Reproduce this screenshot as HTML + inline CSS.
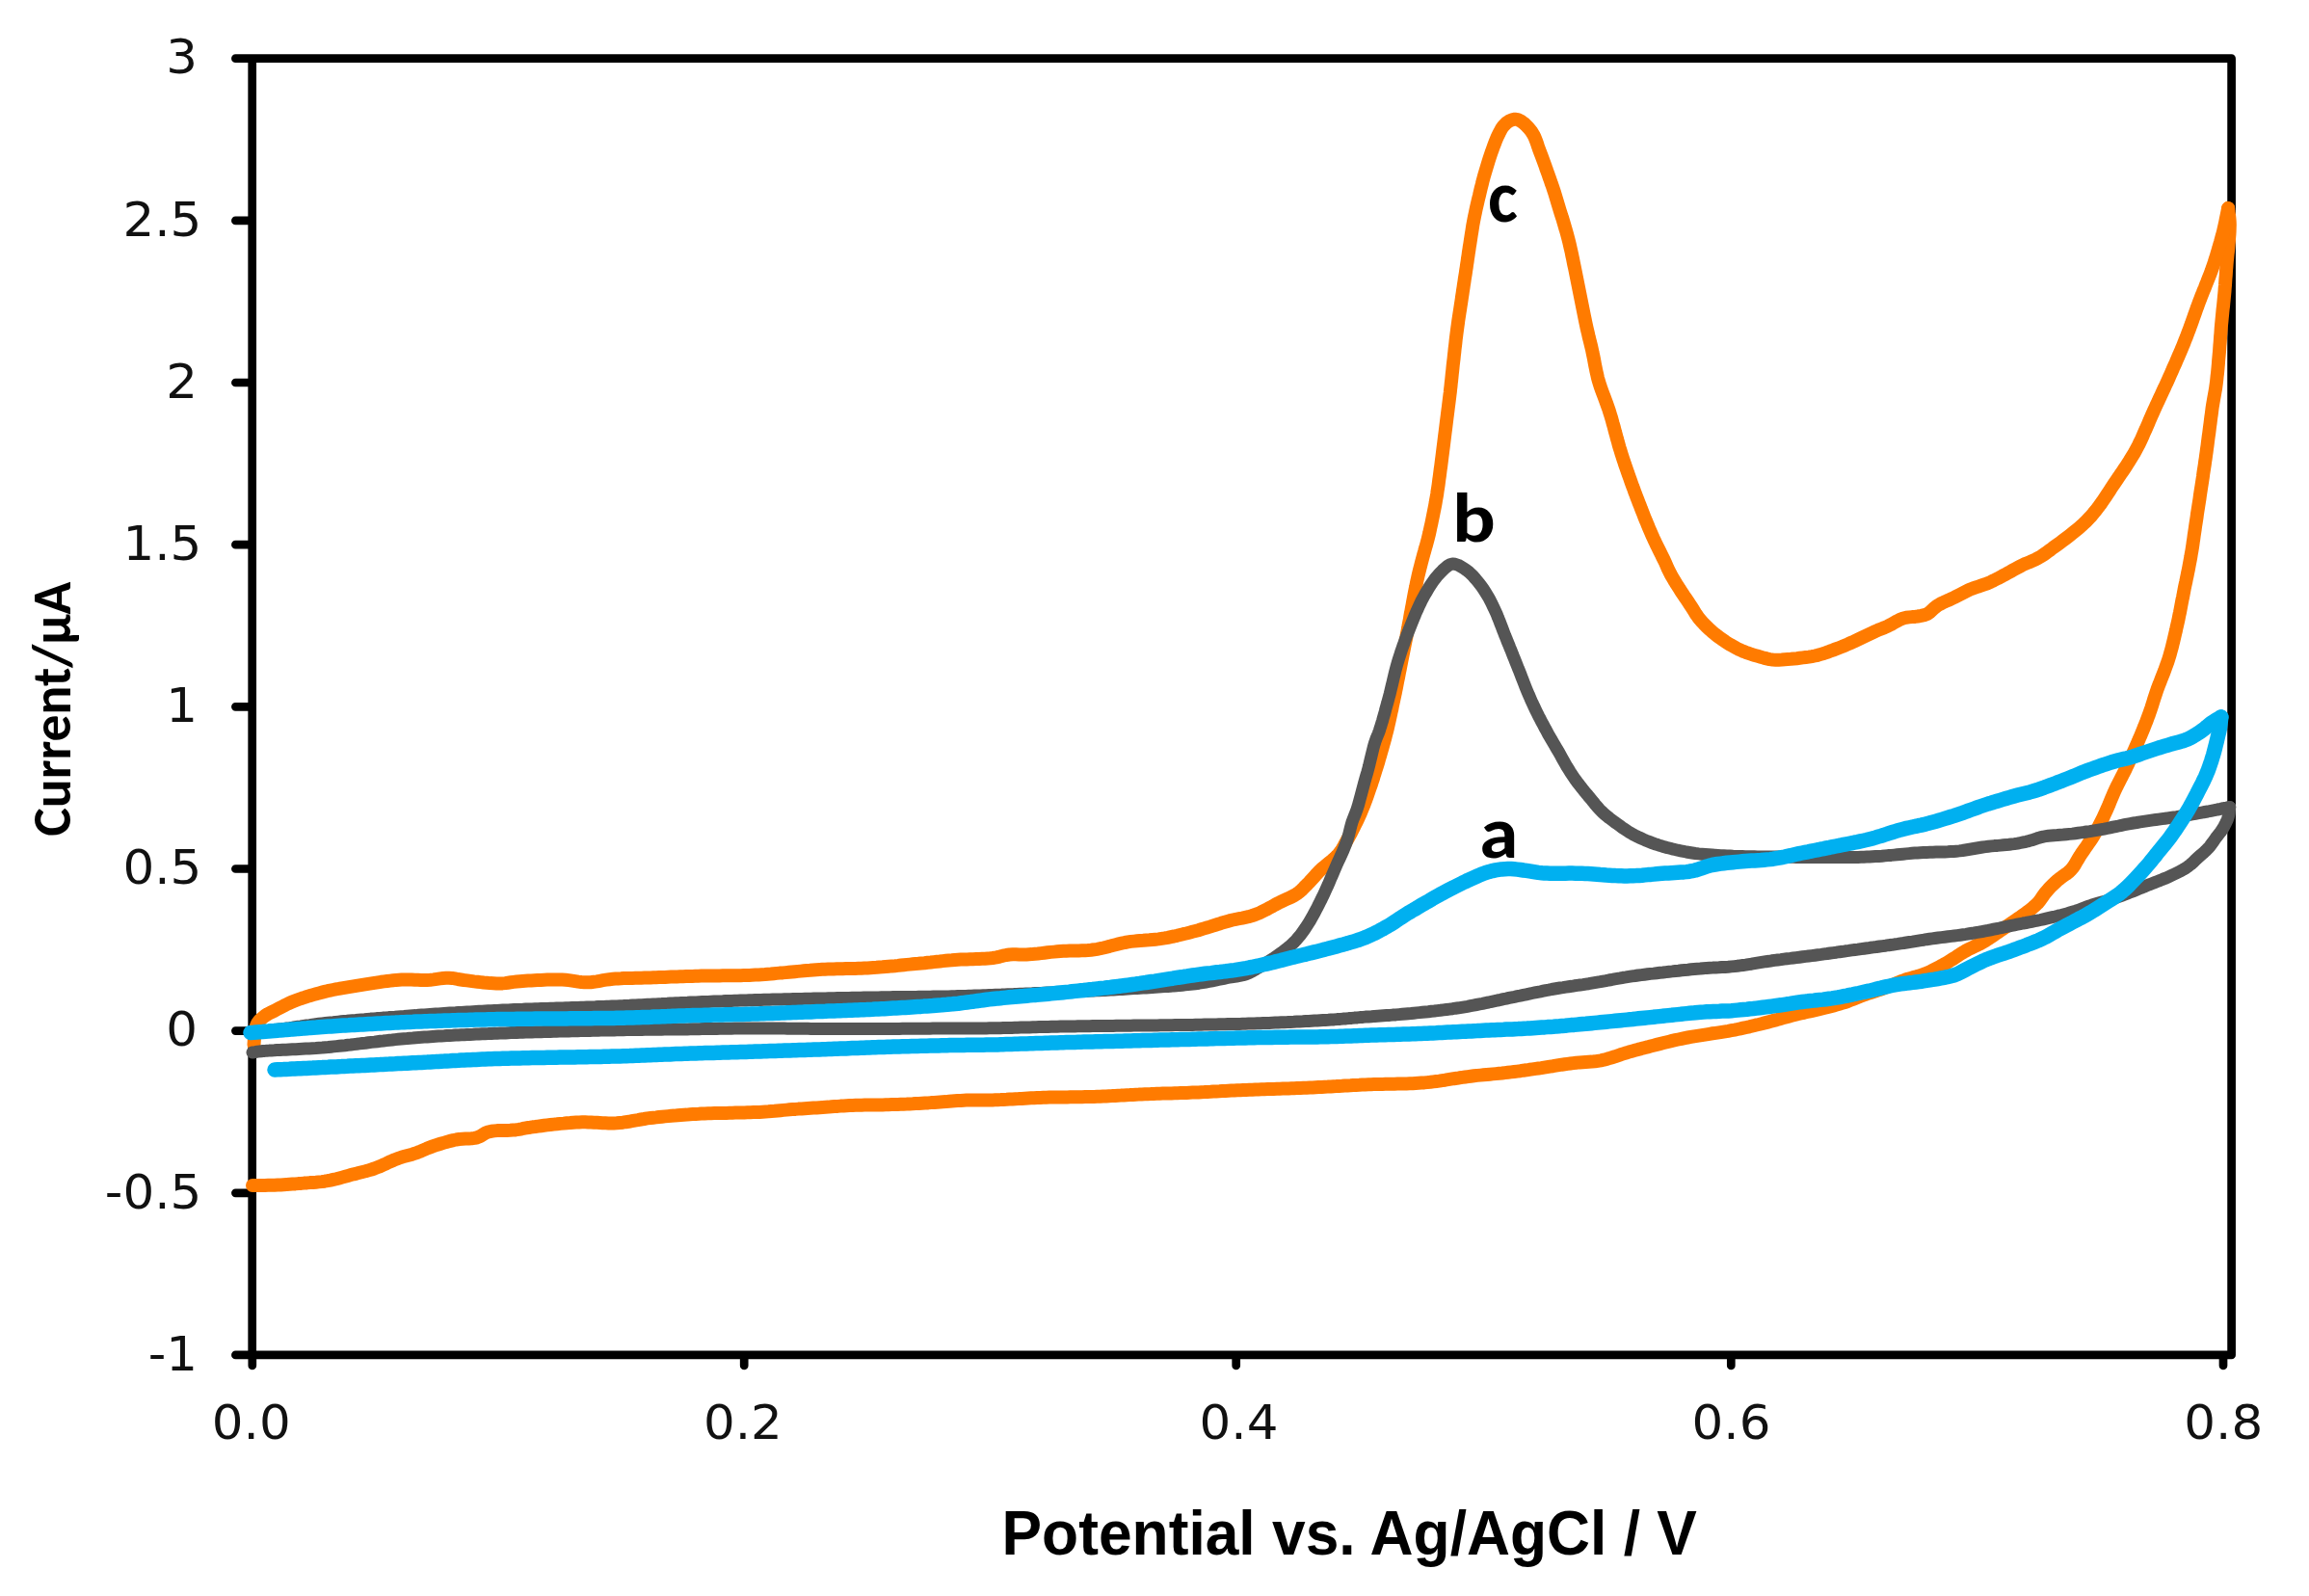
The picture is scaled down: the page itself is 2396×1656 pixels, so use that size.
<!DOCTYPE html>
<html><head><meta charset="utf-8"><title>Cyclic voltammogram</title>
<style>html,body{margin:0;padding:0;background:#fff;}body{width:2396px;height:1656px;overflow:hidden;}svg{display:block;}</style>
</head><body>
<svg xmlns="http://www.w3.org/2000/svg" width="2396" height="1656" viewBox="0 0 2396 1656"><path d="M261.7 60.7 H2315.6 V1405.9 H261.7 Z M244.4 60.7 H261.7 M244.4 228.9 H261.7 M244.4 397 H261.7 M244.4 565.2 H261.7 M244.4 733.3 H261.7 M244.4 901.5 H261.7 M244.4 1069.6 H261.7 M244.4 1237.8 H261.7 M244.4 1405.9 H261.7 M261.8 1405.9 V1416.9 M772.2 1405.9 V1416.9 M1282.7 1405.9 V1416.9 M1796.3 1405.9 V1416.9 M2307 1405.9 V1416.9" fill="none" stroke="#000" stroke-width="8.7" stroke-linecap="round" stroke-linejoin="round"/>
<path d="M2312.1 216 2312.5 219.5 2313 222.9 2313.4 226.4 2313.7 230.1 2313.8 233.3 2313.7 236.6 2313.6 240 2313.4 243.5 2313.1 247 2312.9 250.5 2312.6 253.7 2312.3 257 2312 260.3 2311.6 263.6 2311.3 267 2310.9 270.5 2310.6 274 2310.4 276.9 2310.1 280 2309.9 283.1 2309.7 286.2 2309.4 289.4 2309.2 292.6 2309 295.8 2308.7 299 2308.5 302.1 2308.2 305.3 2307.9 308.4 2307.6 311.6 2307.3 314.7 2307 317.9 2306.6 321 2306.3 324.1 2306 327.3 2305.7 330.4 2305.4 333.6 2305.1 336.7 2304.8 339.8 2304.6 343 2304.4 346.1 2304.1 349.2 2303.9 352.4 2303.7 355.5 2303.4 358.6 2303.2 361.7 2303 364.9 2302.7 368 2302.4 371.2 2302.1 374.4 2301.9 377.6 2301.6 380.8 2301.3 384.1 2301 387.3 2300.6 390.4 2300.3 393.5 2300 396.4 2299.6 399.3 2299.1 403 2298.5 406.4 2297.9 409.8 2297.3 413.1 2296.7 416.5 2296.1 420 2295.6 423.1 2295.2 426.3 2294.8 429.6 2294.3 432.9 2293.9 436.3 2293.5 439.6 2293 443 2292.6 446.3 2292.2 449.6 2291.7 452.8 2291.3 456 2290.9 459.2 2290.5 462.5 2290 465.8 2289.6 469.1 2289.1 472.6 2288.7 475.6 2288.2 478.7 2287.8 481.8 2287.3 485 2286.8 488.2 2286.3 491.5 2285.9 494.7 2285.4 498 2284.9 501.3 2284.4 504.5 2283.9 507.7 2283.4 510.9 2282.9 514.1 2282.5 517.3 2282 520.5 2281.5 523.7 2281 526.8 2280.5 530 2280 533.2 2279.6 536.4 2279.1 539.6 2278.6 542.8 2278.1 546 2277.7 549.2 2277.2 552.4 2276.7 555.6 2276.3 558.8 2275.8 562 2275.4 565.1 2274.9 568.3 2274.4 571.5 2273.8 574.7 2273.3 577.9 2272.7 581.1 2272.1 584.3 2271.5 587.5 2270.9 590.7 2270.2 593.9 2269.6 597.1 2268.9 600.2 2268.3 603.4 2267.6 606.6 2266.9 609.8 2266.3 613 2265.7 616.2 2265.1 619.4 2264.4 622.6 2263.8 625.8 2263.2 629 2262.6 632.2 2262 635.4 2261.3 638.5 2260.7 641.7 2260 644.9 2259.3 648.1 2258.6 651 2258 654 2257.3 656.9 2256.6 659.9 2255.9 662.8 2255.2 665.8 2254.5 668.7 2253.8 671.6 2253 674.5 2252.2 677.4 2251.4 680.3 2250.5 683.2 2249.5 686.3 2248.4 689.4 2247.3 692.4 2246.2 695.5 2245 698.6 2243.8 701.6 2242.6 704.6 2241.5 707.6 2240.3 710.5 2239.2 713.4 2238.2 716.3 2237.2 719.3 2236.2 722.3 2235.2 725.3 2234.3 728.2 2233.4 731.1 2232.5 734 2231.5 736.8 2230.5 739.7 2229.5 742.6 2228.4 745.5 2227.3 748.5 2226.1 751.4 2225 754.3 2223.8 757.2 2222.6 760.2 2221.4 763.1 2220.1 766 2218.9 768.9 2217.6 771.8 2216.3 774.8 2215 777.8 2213.7 780.7 2212.4 783.7 2211.1 786.6 2209.7 789.5 2208.4 792.4 2207 795.3 2205.7 798.1 2204.3 800.9 2202.9 803.6 2201.5 806.4 2200.1 809.1 2198.7 811.9 2197.3 814.6 2196 817.3 2194.7 820 2193.4 822.9 2192.2 825.7 2191 828.5 2189.8 831.4 2188.7 834.2 2187.5 837 2186.3 839.8 2185 842.6 2183.7 845.4 2182.4 848.3 2181 851.1 2179.6 853.9 2178.2 856.7 2176.8 859.5 2175.3 862.3 2173.7 865.1 2172.2 867.7 2170.5 870.3 2168.8 872.9 2167 875.4 2165.3 878 2163.5 880.5 2161.8 883 2160.1 885.4 2158.6 887.7 2156.6 891 2154.8 894.1 2153 897.2 2151.1 900 2148.9 902.7 2146.4 905 2143.7 907.1 2140.8 909.1 2138 911.1 2135.3 913.2 2132.8 915.5 2130.3 917.9 2127.8 920.3 2125.5 922.8 2123.3 925.3 2121.4 927.7 2119.7 930.1 2118 932.6 2116.3 935 2114.3 937.3 2112 939.5 2109.6 941.6 2107.1 943.6 2104.4 945.7 2101.5 947.8 2099.1 949.6 2096.5 951.4 2093.8 953.3 2091 955.2 2088.2 957.2 2085.3 959.1 2082.5 961 2079.7 962.9 2077.2 964.6 2074.7 966.4 2072.1 968.1 2069.6 969.9 2067 971.6 2064.5 973.3 2062 974.9 2059.5 976.5 2057.1 977.9 2054.2 979.5 2051.3 980.9 2048.5 982.2 2045.8 983.6 2042.9 984.9 2040 986.5 2037.4 988 2034.7 989.7 2032 991.4 2029.3 993.2 2026.5 995 2023.8 996.7 2021 998.4 2018.3 1000 2015.3 1001.6 2012.4 1003.3 2009.4 1004.8 2006.5 1006.3 2003.5 1007.8 2000.5 1009.1 1997.5 1010.4 1994.6 1011.5 1991.6 1012.4 1988.6 1013.3 1985.6 1014.1 1982.6 1014.9 1979.7 1015.7 1976.7 1016.7 1973.7 1017.8 1970.7 1019 1967.8 1020.2 1964.8 1021.4 1961.8 1022.7 1958.9 1023.9 1955.9 1025 1952.9 1026.1 1950 1027.1 1947 1028 1944 1029 1941 1030 1938.1 1031 1935.1 1032 1932.1 1033.1 1929.2 1034.3 1926.2 1035.5 1923.2 1036.7 1920.3 1037.8 1917.3 1039 1914.3 1040 1911.4 1040.9 1908.5 1041.8 1905.7 1042.6 1902.8 1043.4 1899.8 1044.2 1896.8 1045 1893.6 1045.8 1890.7 1046.5 1887.8 1047.2 1884.7 1047.9 1881.6 1048.6 1878.4 1049.3 1875.2 1050 1872 1050.8 1868.7 1051.5 1865.5 1052.2 1862.4 1053 1859.3 1053.8 1856.2 1054.6 1853 1055.5 1849.9 1056.3 1846.8 1057.2 1843.7 1058.1 1840.6 1058.9 1837.4 1059.8 1834.3 1060.6 1831.2 1061.4 1828.1 1062.2 1824.9 1063 1821.7 1063.7 1818.5 1064.5 1815.3 1065.3 1812.2 1066 1809 1066.7 1805.9 1067.4 1802.9 1068 1800 1068.6 1796.6 1069.2 1793.3 1069.8 1790 1070.3 1786.9 1070.8 1783.7 1071.3 1780.4 1071.8 1777 1072.3 1773.9 1072.8 1770.8 1073.3 1767.6 1073.8 1764.4 1074.3 1761.1 1074.8 1757.8 1075.3 1754.6 1075.9 1751.3 1076.5 1748.1 1077.1 1744.9 1077.8 1741.6 1078.5 1738.4 1079.2 1735.2 1079.9 1732 1080.7 1728.7 1081.5 1725.5 1082.3 1722.3 1083.1 1719.1 1083.9 1715.9 1084.7 1712.7 1085.5 1709.5 1086.4 1706.2 1087.2 1703 1088.1 1699.8 1088.9 1696.6 1089.8 1693.4 1090.7 1690.2 1091.6 1687.3 1092.5 1684.4 1093.4 1681.5 1094.3 1678.6 1095.3 1675.7 1096.3 1672.8 1097.2 1669.9 1098.1 1667 1098.9 1664.1 1099.7 1661.2 1100.3 1658 1100.8 1654.9 1101.3 1651.8 1101.6 1648.6 1101.8 1645.5 1102 1642.3 1102.2 1639 1102.4 1635.7 1102.7 1632.3 1103.1 1629.5 1103.5 1626.6 1103.9 1623.7 1104.3 1620.6 1104.7 1617.6 1105.2 1614.5 1105.7 1611.5 1106.2 1608.4 1106.6 1605.4 1107.1 1602.3 1107.6 1599.4 1108.1 1596.5 1108.5 1593.7 1108.9 1590.3 1109.4 1587.1 1109.8 1583.9 1110.3 1580.8 1110.7 1577.7 1111.2 1574.5 1111.6 1571.3 1112 1568.1 1112.4 1564.7 1112.8 1561.7 1113.1 1558.6 1113.5 1555.5 1113.8 1552.4 1114.1 1549.2 1114.4 1546 1114.7 1542.8 1115 1539.5 1115.3 1536.2 1115.6 1532.8 1115.9 1529.5 1116.3 1526.1 1116.7 1523.2 1117.1 1520.4 1117.5 1517.5 1117.9 1514.5 1118.3 1511.6 1118.8 1508.6 1119.2 1505.6 1119.7 1502.6 1120.2 1499.6 1120.7 1496.5 1121.1 1493.5 1121.6 1490.4 1122 1487.3 1122.4 1484.2 1122.8 1481 1123.1 1477.9 1123.4 1475 1123.6 1472 1123.8 1468.9 1124 1465.9 1124.2 1462.8 1124.3 1459.6 1124.4 1456.5 1124.5 1453.3 1124.6 1450.2 1124.6 1447 1124.7 1443.9 1124.7 1440.7 1124.8 1437.6 1124.8 1434.6 1124.9 1431.5 1125 1428.6 1125 1425.6 1125.1 1422.8 1125.2 1420 1125.3 1416.7 1125.4 1413.5 1125.6 1410.4 1125.8 1407.3 1125.9 1404.3 1126.1 1401.3 1126.3 1398.4 1126.4 1395.4 1126.6 1392.5 1126.8 1389.6 1126.9 1386.7 1127.1 1383.8 1127.2 1380.9 1127.4 1377.7 1127.6 1374.5 1127.7 1371.4 1127.9 1368.3 1128 1365.2 1128.2 1362.1 1128.4 1359 1128.5 1355.8 1128.7 1352.6 1128.8 1349.3 1129 1345.8 1129.1 1343 1129.2 1340.1 1129.3 1337.2 1129.4 1334.2 1129.5 1331.1 1129.6 1328 1129.7 1324.9 1129.8 1321.7 1129.9 1318.6 1130 1315.4 1130.1 1312.2 1130.2 1309 1130.3 1305.8 1130.4 1302.6 1130.5 1299.5 1130.7 1296.3 1130.8 1293.2 1130.9 1290.1 1131 1287 1131.2 1283.9 1131.3 1280.8 1131.5 1277.7 1131.6 1274.6 1131.8 1271.5 1132 1268.4 1132.1 1265.3 1132.3 1262.2 1132.4 1259.1 1132.6 1256 1132.8 1252.9 1132.9 1249.8 1133.1 1246.7 1133.2 1243.6 1133.4 1240.5 1133.5 1237.4 1133.6 1234.3 1133.7 1231.2 1133.9 1228.1 1134 1225 1134.1 1221.9 1134.2 1218.8 1134.3 1215.7 1134.4 1212.6 1134.4 1209.6 1134.5 1206.5 1134.6 1203.4 1134.7 1200.3 1134.8 1197.2 1134.9 1194.1 1135.1 1191 1135.2 1187.9 1135.3 1184.8 1135.4 1181.7 1135.6 1178.6 1135.7 1175.5 1135.9 1172.4 1136.1 1169.3 1136.2 1166.2 1136.4 1163.2 1136.6 1160.1 1136.7 1157 1136.9 1153.9 1137.1 1150.8 1137.2 1147.7 1137.4 1144.6 1137.5 1141.5 1137.7 1138.4 1137.8 1135.3 1137.9 1132.2 1138 1129.1 1138.1 1126 1138.1 1122.9 1138.2 1119.8 1138.2 1116.7 1138.3 1113.6 1138.3 1110.5 1138.3 1107.4 1138.4 1104.3 1138.4 1101.2 1138.4 1098.1 1138.5 1095 1138.5 1091.9 1138.6 1088.8 1138.6 1085.7 1138.7 1082.6 1138.8 1079.5 1138.9 1076.3 1139 1073.1 1139.2 1069.9 1139.3 1066.7 1139.5 1063.4 1139.7 1060.2 1139.9 1057 1140.1 1053.8 1140.2 1050.6 1140.4 1047.5 1140.6 1044.4 1140.8 1041.4 1140.9 1038.4 1141.1 1035.5 1141.2 1032.7 1141.3 1030 1141.4 1026.6 1141.5 1023.4 1141.5 1020.2 1141.5 1017.2 1141.5 1014.2 1141.5 1011.2 1141.5 1008.4 1141.5 1005.6 1141.6 1002.8 1141.6 1000 1141.7 996.7 1141.9 993.7 1142.1 990.7 1142.3 987.7 1142.5 984.7 1142.8 981.6 1143.1 978.3 1143.3 975.4 1143.5 972.4 1143.7 969.4 1143.9 966.2 1144.1 963.1 1144.4 959.9 1144.6 956.6 1144.8 953.4 1145 950.2 1145.1 947.1 1145.3 944 1145.4 940.9 1145.6 937.7 1145.7 934.6 1145.8 931.5 1145.9 928.4 1146 925.3 1146.1 922.1 1146.2 919 1146.3 915.9 1146.4 912.8 1146.5 909.7 1146.5 906.5 1146.5 903.4 1146.6 900.3 1146.6 897.2 1146.6 894.1 1146.7 890.9 1146.7 887.8 1146.8 884.7 1146.9 881.6 1147 878.5 1147.2 875.4 1147.4 872.3 1147.6 869.1 1147.9 866 1148.1 862.9 1148.3 859.8 1148.6 856.7 1148.8 853.6 1149 850.5 1149.2 847.4 1149.4 844.2 1149.6 841.1 1149.8 838 1150 834.9 1150.2 831.8 1150.4 828.6 1150.6 825.5 1150.9 822.4 1151.1 819.3 1151.3 816.2 1151.6 813 1151.9 809.9 1152.2 806.8 1152.5 803.7 1152.8 800.6 1153 797.4 1153.3 794.3 1153.5 791.2 1153.7 788.1 1153.9 785 1154 781.9 1154.1 778.7 1154.2 775.6 1154.3 772.5 1154.4 769.4 1154.5 766.3 1154.5 763.1 1154.6 760 1154.7 756.8 1154.8 753.7 1154.9 750.6 1154.9 747.5 1155 744.4 1155 741.2 1155.1 738 1155.2 734.7 1155.3 731.2 1155.4 727.7 1155.6 724.9 1155.8 722 1155.9 719 1156.1 716 1156.3 712.8 1156.6 709.6 1156.8 706.4 1157 703.2 1157.3 699.9 1157.6 696.6 1157.8 693.4 1158.1 690.2 1158.4 687 1158.7 683.9 1159 680.9 1159.4 677.9 1159.7 675.1 1160 671.6 1160.4 668.3 1161 665.1 1161.5 661.9 1162.1 658.8 1162.6 655.7 1163.2 652.6 1163.8 649.5 1164.2 646.4 1164.7 643.2 1165 640 1165.3 637.1 1165.4 634.2 1165.5 631.3 1165.4 628.3 1165.3 625.4 1165.2 622.4 1165 619.5 1164.8 616.5 1164.7 613.4 1164.5 610.4 1164.4 607.3 1164.3 604.1 1164.3 600.9 1164.4 597.9 1164.5 594.8 1164.7 591.6 1165 588.3 1165.2 584.9 1165.6 581.5 1165.9 578 1166.3 574.5 1166.6 571.1 1167 567.8 1167.4 564.5 1167.8 561.4 1168.2 558.3 1168.6 555.5 1169 552.8 1169.3 550.4 1169.7 548.2 1170 544.4 1170.6 541.4 1171.3 538.4 1171.9 535 1172.4 532.3 1172.6 529.3 1172.8 526 1172.9 522.7 1172.9 519.3 1173 515.9 1173.1 512.8 1173.4 509.8 1173.8 507.2 1174.3 503.9 1175.6 501.1 1177.3 498.3 1179 495.1 1180.3 492.4 1180.9 489.4 1181.3 486.3 1181.5 483.1 1181.6 479.8 1181.8 476.5 1182 473.3 1182.5 470.3 1183.1 467.2 1183.9 464.1 1184.7 461 1185.6 457.9 1186.5 454.8 1187.5 451.9 1188.4 449 1189.4 445.8 1190.6 442.7 1191.8 439.7 1193.1 436.8 1194.4 433.8 1195.6 430.8 1196.7 427.8 1197.7 424.9 1198.5 421.9 1199.3 418.9 1200.1 415.8 1201 412.7 1202.1 409.8 1203.2 406.9 1204.5 403.8 1205.8 400.8 1207.3 397.7 1208.7 394.6 1210.1 391.5 1211.3 388.4 1212.5 385.4 1213.5 382.4 1214.4 379.3 1215.3 376.3 1216 373.2 1216.8 370.2 1217.6 367.1 1218.3 364.1 1219.1 361.1 1219.9 358.1 1220.7 355 1221.6 352 1222.4 349 1223.2 346 1223.9 342.9 1224.6 339.9 1225.2 336.9 1225.7 333.8 1226.1 330.8 1226.4 327.8 1226.7 324.7 1226.9 321.7 1227.1 318.6 1227.4 315.6 1227.6 312.6 1227.9 309.6 1228.1 306.5 1228.4 303.5 1228.6 300.5 1228.8 297.5 1229 294.4 1229.2 291.4 1229.4 288.2 1229.5 284.9 1229.7 281.5 1229.7 278.1 1229.8 274.9 1229.9 271.9 1229.9 269.3 1230 267.1 1230 262 1230" fill="none" stroke="#ff7b00" stroke-width="14" stroke-linecap="round" stroke-linejoin="round"/>
<path d="M263.5 1084 263.7 1081 263.9 1077.9 264.1 1074.9 264.5 1072 265 1068.5 265.7 1065.1 267 1062 269.2 1059 272 1056.4 275 1054 278.1 1052 281.4 1050.4 285.1 1048.6 287.7 1047.2 290.4 1045.8 293.2 1044.3 296.2 1042.7 299.3 1041.2 302.6 1039.8 305.1 1038.8 307.7 1037.8 310.4 1036.8 313.2 1035.8 316.1 1034.9 319 1033.9 322 1033 325 1032.1 328.1 1031.2 331.1 1030.4 334.2 1029.6 337 1028.9 339.9 1028.2 342.8 1027.6 345.7 1027 348.6 1026.4 351.6 1025.9 354.6 1025.3 357.6 1024.8 360.6 1024.3 363.6 1023.8 366.7 1023.3 369.7 1022.8 372.8 1022.3 375.9 1021.8 379 1021.3 382.2 1020.8 385.4 1020.3 388.7 1019.8 392 1019.3 395.3 1018.8 398.5 1018.4 401.7 1018 404.9 1017.6 408 1017.2 411 1016.9 413.9 1016.7 416.7 1016.5 420.3 1016.4 423.8 1016.4 427.1 1016.5 430.4 1016.7 433.6 1016.8 436.7 1017 439.9 1017.1 443 1017 446.4 1016.8 449.8 1016.4 453.3 1015.9 456.6 1015.4 459.8 1015 462.9 1014.8 465.8 1014.7 469.1 1014.9 472.1 1015.4 475 1016 478.1 1016.5 481.4 1017 484.8 1017.4 488.3 1017.9 491.9 1018.4 495.6 1018.8 498.7 1019.1 501.9 1019.5 505.2 1019.8 508.5 1020.1 511.9 1020.3 515.2 1020.5 518.4 1020.5 521.4 1020.4 524.3 1020.1 527.1 1019.7 530 1019.3 532.9 1018.9 536.1 1018.5 539.5 1018.2 542.2 1018 545 1017.8 548 1017.6 551.2 1017.4 554.4 1017.2 557.7 1017 561.1 1016.9 564.5 1016.7 567.8 1016.6 571.1 1016.5 574.4 1016.4 577.5 1016.4 580.5 1016.4 583.3 1016.5 586.9 1016.7 590.3 1017.1 593.7 1017.6 596.9 1018.1 600 1018.6 603.2 1019 606.4 1019.2 609.6 1019.3 612.9 1019.2 616.1 1018.8 619.3 1018.4 622.5 1017.8 625.7 1017.2 629 1016.7 632.4 1016.2 636 1015.8 638.7 1015.6 641.5 1015.4 644.4 1015.3 647.3 1015.1 650.2 1015 653.2 1015 656.2 1014.9 659.3 1014.8 662.4 1014.7 665.5 1014.7 668.7 1014.6 671.9 1014.5 675.1 1014.4 678 1014.3 680.9 1014.2 683.9 1014.1 686.9 1014 690 1013.9 693.1 1013.7 696.2 1013.6 699.3 1013.5 702.5 1013.4 705.6 1013.3 708.8 1013.2 712 1013.1 715.2 1013 718.3 1012.9 721.5 1012.8 724.6 1012.7 727.7 1012.6 730.8 1012.5 734 1012.5 737.1 1012.4 740.3 1012.4 743.5 1012.4 746.7 1012.4 749.9 1012.3 753.1 1012.3 756.3 1012.3 759.5 1012.3 762.6 1012.2 765.7 1012.2 768.7 1012.2 771.7 1012.1 774.7 1012 777.6 1011.9 780.4 1011.8 783.9 1011.6 787.2 1011.4 790.5 1011.2 793.7 1011 796.8 1010.7 799.9 1010.5 803 1010.2 806 1009.9 809.1 1009.6 812.2 1009.4 815.4 1009.1 818.6 1008.8 821.7 1008.5 824.8 1008.2 827.9 1007.9 830.9 1007.6 834.1 1007.3 837.2 1007 840.4 1006.8 843.7 1006.5 847 1006.2 850.5 1006 853.3 1005.8 856.2 1005.7 859.2 1005.6 862.2 1005.5 865.2 1005.4 868.3 1005.3 871.4 1005.2 874.6 1005.2 877.8 1005.1 881 1005 884.2 1005 887.4 1004.9 890.6 1004.8 893.8 1004.7 896.9 1004.5 900.1 1004.4 903.2 1004.2 906.3 1004 909.5 1003.8 912.6 1003.5 915.8 1003.3 919 1003 922.2 1002.7 925.4 1002.4 928.6 1002.2 931.8 1001.9 934.9 1001.5 938 1001.2 941.1 1000.9 944.2 1000.6 947.2 1000.3 950.1 1000 953 999.8 955.8 999.5 959.3 999.2 962.6 998.8 965.8 998.5 969 998.1 972.1 997.8 975.2 997.5 978.3 997.1 981.4 996.8 984.5 996.5 987.7 996.3 990.9 996 993.9 995.8 997 995.6 1000.1 995.5 1003.3 995.4 1006.5 995.3 1009.7 995.2 1012.9 995.1 1016 995 1019.1 994.8 1022 994.7 1024.8 994.5 1027.5 994.3 1030 994 1034 993.4 1037.5 992.6 1040.8 991.7 1044.1 991 1047.5 990.5 1050.9 990.3 1054.2 990.3 1057.6 990.5 1061.2 990.6 1065.1 990.5 1067.8 990.3 1070.8 990.1 1073.8 989.8 1077 989.5 1080.2 989.1 1083.6 988.7 1086.9 988.3 1090.3 987.9 1093.7 987.6 1097 987.3 1100.2 987 1103.4 986.8 1106.6 986.7 1109.8 986.6 1113 986.5 1116.2 986.4 1119.4 986.4 1122.6 986.3 1125.8 986.2 1128.9 986 1132.1 985.7 1135.3 985.3 1138.5 984.8 1141.7 984.2 1144.9 983.5 1148.1 982.7 1151.3 981.9 1154.4 981 1157.6 980.2 1160.8 979.4 1164 978.7 1167.2 978 1170.4 977.4 1173.6 976.9 1176.7 976.6 1179.9 976.3 1183.1 976 1186.3 975.8 1189.5 975.5 1192.7 975.3 1195.9 975 1199.1 974.7 1202.2 974.4 1205.4 973.9 1208.6 973.4 1211.8 972.8 1215 972.1 1218.2 971.5 1221.4 970.8 1224.6 970 1227.8 969.2 1231 968.5 1234.1 967.7 1237.3 966.8 1240.5 966 1243.5 965.2 1246.4 964.3 1249.4 963.4 1252.4 962.5 1255.4 961.6 1258.4 960.6 1261.3 959.7 1264.3 958.8 1267.2 957.8 1270 957 1272.8 956.2 1275.6 955.4 1279.1 954.5 1282.4 953.8 1285.8 953.2 1289 952.6 1292.3 951.9 1295.5 951.2 1298.7 950.3 1301.9 949.3 1304.9 948.1 1307.9 946.8 1310.9 945.3 1314 943.8 1316.9 942.2 1319.9 940.6 1322.7 939 1325.5 937.5 1328.2 936.1 1331.4 934.6 1334.5 933.2 1337.5 931.8 1340.4 930.5 1343.2 929 1345.8 927.4 1348.3 925.5 1350.6 923.5 1352.7 921.4 1354.8 919.2 1357 917 1359.1 914.8 1361.2 912.5 1363.3 910.2 1365.4 907.8 1367.6 905.4 1370 903 1372.2 900.9 1374.7 898.9 1377.2 896.8 1379.8 894.7 1382.4 892.6 1384.8 890.5 1387 888.4 1389 886.3 1391.1 883.5 1392.9 880.7 1394.5 877.9 1396 875.1 1397.5 872.3 1399.1 869.5 1400.6 866.7 1402.1 864 1403.5 861.1 1405 858.2 1406.3 855.5 1407.7 852.8 1409 850 1410.3 847.1 1411.6 844.3 1412.8 841.4 1414 838.4 1415.2 835.5 1416.3 832.5 1417.5 829.4 1418.6 826.3 1419.7 823.2 1420.7 820.3 1421.7 817.3 1422.8 814.3 1423.8 811.2 1424.8 808.2 1425.7 805.1 1426.7 802.1 1427.6 799.1 1428.6 796.1 1429.5 793.2 1430.4 790.2 1431.2 787.2 1432.1 784.2 1433 781.1 1433.8 778.3 1434.6 775.5 1435.4 772.7 1436.2 769.9 1437 767 1437.7 764.1 1438.5 761 1439.3 757.9 1440 755 1440.7 752 1441.4 748.9 1442.1 745.7 1442.8 742.5 1443.5 739.2 1444.3 735.9 1444.9 732.6 1445.6 729.3 1446.3 726 1447 722.8 1447.7 719.6 1448.3 716.4 1449 713.2 1449.6 710 1450.2 706.8 1450.9 703.6 1451.5 700.4 1452.1 697.2 1452.8 694 1453.4 690.8 1454 687.7 1454.6 684.7 1455.2 681.7 1455.8 678.7 1456.4 675.7 1457 672.7 1457.6 669.7 1458.2 666.7 1458.8 663.8 1459.4 660.8 1459.9 657.9 1460.5 655 1461.1 651.9 1461.6 648.9 1462.2 645.8 1462.8 642.8 1463.3 639.7 1463.8 636.7 1464.4 633.8 1464.9 630.8 1465.5 627.9 1466 625 1466.6 621.8 1467.2 618.5 1467.8 615.4 1468.4 612.2 1469.1 609.1 1469.7 606.1 1470.3 603 1471 600 1471.7 596.8 1472.5 593.5 1473.3 590.3 1474.1 587.2 1474.9 584.1 1475.7 581 1476.5 578 1477.3 574.9 1478.2 571.9 1479 568.9 1479.9 566 1480.7 563 1481.5 560 1482.3 556.8 1483.1 553.5 1483.8 550.2 1484.5 546.9 1485.3 543.5 1486 540 1486.6 537.1 1487.2 534.1 1487.8 531.2 1488.4 528.1 1489 525.1 1489.6 521.9 1490.1 518.7 1490.7 515.4 1491.2 512.5 1491.6 509.4 1492.1 506.3 1492.6 503.1 1493 499.9 1493.4 496.7 1493.9 493.4 1494.3 490.1 1494.7 486.9 1495.2 483.6 1495.6 480.4 1496 477.2 1496.4 474 1496.8 470.8 1497.2 467.6 1497.6 464.5 1498 461.3 1498.4 458.1 1498.8 454.9 1499.2 451.7 1499.6 448.5 1500 445.3 1500.4 442.1 1500.8 438.9 1501.2 435.7 1501.6 432.5 1502 429.3 1502.4 426.2 1502.8 423 1503.2 419.8 1503.6 416.6 1504 413.4 1504.4 410.2 1504.8 407 1505.1 403.8 1505.5 400.6 1505.8 397.4 1506.2 394.2 1506.5 391.1 1506.8 387.9 1507.2 384.7 1507.5 381.5 1507.8 378.3 1508.2 375.1 1508.6 371.9 1508.9 368.7 1509.3 365.4 1509.6 362.2 1510 359 1510.4 355.7 1510.7 352.5 1511.1 349.3 1511.5 346.2 1511.9 343.1 1512.3 340 1512.8 336.6 1513.2 333.3 1513.7 330 1514.2 326.7 1514.7 323.5 1515.2 320.3 1515.7 317 1516.2 313.8 1516.7 310.5 1517.1 307.5 1517.6 304.5 1518 301.5 1518.5 298.5 1518.9 295.5 1519.4 292.5 1519.8 289.5 1520.3 286.5 1520.8 283.5 1521.2 280.5 1521.7 277.5 1522.1 274.4 1522.6 271.3 1523 268.2 1523.5 265.1 1523.9 262 1524.4 259 1524.8 256 1525.3 253.2 1525.7 250.4 1526.3 246.7 1526.8 243.2 1527.4 239.7 1527.9 236.4 1528.4 233.2 1529 230 1529.6 226.9 1530.2 223.9 1530.8 221.1 1531.4 218.2 1532 215.3 1532.7 212.3 1533.4 209.3 1534.1 206.2 1534.9 203.2 1535.6 200.2 1536.3 197.2 1537 194.2 1537.8 191.2 1538.5 188.2 1539.3 185.2 1540.1 182.2 1541 179.2 1541.9 176.2 1542.8 173.2 1543.7 170.2 1544.6 167.2 1545.6 164.1 1546.6 161.1 1547.6 158.1 1548.7 155.1 1549.8 152 1551 148.9 1552.2 145.8 1553.4 142.8 1554.7 140.1 1556.4 136.7 1558.1 133.5 1560 130.8 1562.9 127.8 1566 125.6 1568.9 124.3 1571.9 123.7 1575 124.2 1578 125.6 1581.3 127.9 1584.5 131 1586.9 133.7 1589.3 136.7 1591.4 140.1 1592.7 142.8 1593.9 145.8 1595 148.9 1596 152 1597.1 155.1 1598.2 158.1 1599.4 161.1 1600.5 164.2 1601.6 167.2 1602.7 170.2 1603.8 173.2 1604.8 176.2 1605.9 179.2 1607 182.2 1608 185.2 1609.1 188.2 1610.1 191.2 1611.2 194.2 1612.2 197.2 1613.2 200.2 1614.1 203.2 1615 206.2 1615.9 209.3 1616.8 212.3 1617.7 215.3 1618.6 218.2 1619.5 221.1 1620.4 224 1621.4 226.9 1622.3 230 1623.1 232.7 1623.9 235.5 1624.7 238.3 1625.6 241.2 1626.4 244.2 1627.2 247.2 1628 250.4 1628.7 253.2 1629.3 256 1630 259 1630.7 262 1631.3 265.1 1632 268.2 1632.6 271.3 1633.2 274.4 1633.9 277.5 1634.5 280.5 1635.1 283.5 1635.7 286.5 1636.3 289.5 1636.9 292.5 1637.5 295.5 1638.1 298.5 1638.7 301.5 1639.3 304.5 1639.9 307.5 1640.5 310.5 1641.1 313.5 1641.7 316.5 1642.3 319.5 1642.9 322.5 1643.5 325.5 1644.1 328.5 1644.7 331.4 1645.3 334.3 1645.9 337.2 1646.5 340 1647.3 343.4 1648.1 346.7 1648.8 349.9 1649.6 353 1650.4 356.2 1651.2 359.5 1652 363 1652.6 366 1653.3 369.1 1653.9 372.2 1654.5 375.4 1655.1 378.7 1655.8 382 1656.4 385.2 1657.2 388.5 1657.9 391.8 1658.8 395 1659.7 398 1660.6 400.9 1661.6 403.8 1662.7 406.7 1663.8 409.7 1664.9 412.6 1666 415.5 1667.1 418.5 1668.2 421.6 1669.3 424.6 1670.3 427.8 1671.2 430.7 1672.1 433.6 1672.9 436.5 1673.7 439.6 1674.6 442.6 1675.4 445.7 1676.2 448.8 1677.1 451.9 1677.9 455 1678.8 458.1 1679.6 461.2 1680.5 464.3 1681.5 467.4 1682.4 470.4 1683.3 473.3 1684.2 476.1 1685.2 479 1686.1 481.8 1687.1 484.6 1688.1 487.5 1689.1 490.3 1690.1 493.2 1691.1 496 1692.1 498.8 1693.1 501.7 1694.1 504.5 1695.2 507.3 1696.2 510.2 1697.3 513 1698.4 515.9 1699.5 518.8 1700.6 521.7 1701.8 524.7 1702.9 527.7 1704.1 530.7 1705.3 533.6 1706.4 536.6 1707.6 539.5 1708.8 542.3 1709.9 545.1 1711.1 547.9 1712.2 550.5 1713.3 553.1 1714.4 555.6 1715.8 558.7 1717.2 561.6 1718.5 564.5 1719.9 567.2 1721.2 569.9 1722.5 572.5 1723.8 575.1 1725 577.6 1726.2 580 1727.8 583.3 1729.2 586.5 1730.5 589.6 1732 592.6 1733.5 595.6 1734.9 598.2 1736.5 600.8 1738 603.4 1739.6 606 1741.3 608.6 1742.9 611.2 1744.6 613.8 1746.3 616.4 1748 619 1749.8 621.6 1751.6 624.2 1753.3 626.8 1755 629.4 1756.7 632.1 1758.3 634.7 1760 637.4 1761.8 639.9 1763.7 642.4 1765.8 644.8 1767.9 647.1 1770.1 649.4 1772.4 651.6 1774.8 653.8 1777.2 655.9 1779.7 658 1782.2 660 1784.8 661.9 1787.5 663.8 1790.1 665.6 1792.8 667.3 1795.9 669.2 1799 670.9 1802.1 672.6 1805.2 674.2 1808.4 675.6 1811.5 676.8 1814.6 677.9 1817.7 679 1820.9 679.9 1824 680.8 1827.1 681.7 1830.2 682.6 1833.3 683.4 1836.4 684.1 1839.5 684.5 1842.6 684.7 1845.7 684.7 1848.9 684.5 1852 684.2 1855.1 684 1858.2 683.8 1861.3 683.5 1864.5 683.2 1867.6 682.8 1870.7 682.4 1873.8 682 1877 681.6 1880.1 681.1 1883.2 680.5 1886.3 679.8 1889.4 678.9 1892.6 678 1895.7 676.9 1898.8 675.7 1901.9 674.6 1905 673.4 1908.2 672.2 1911.3 671 1914.4 669.7 1917.5 668.4 1920.6 667 1923.8 665.6 1926.9 664.1 1930 662.6 1933.1 661.1 1936.3 659.6 1939.5 658.1 1942.7 656.6 1945.8 655.1 1948.7 653.8 1952.2 652.4 1955.6 651.1 1959.1 649.6 1962.1 648.1 1965.2 646.3 1968.5 644.4 1971.7 642.8 1975 641.5 1978 640.8 1981.1 640.4 1984.2 640.1 1987.2 639.9 1990 639.5 1993.5 638.9 1996.8 638.2 2000 637 2002.5 635.3 2004.9 633 2007.4 630.7 2010.2 628.5 2012.8 627 2015.6 625.5 2018.6 624.1 2021.7 622.8 2024.7 621.4 2027.7 620 2030.6 618.5 2033.6 617 2036.5 615.5 2039.4 614 2042.3 612.5 2045.3 611.2 2048.2 610.1 2051.1 609.1 2054.1 608.2 2057 607.2 2059.9 606.2 2062.8 605.1 2065.8 603.8 2068.7 602.4 2071.6 600.9 2074.6 599.4 2077.5 597.8 2080.4 596.3 2083.3 594.7 2086.2 593.1 2089.1 591.4 2092 589.8 2095 588.2 2097.9 586.7 2100.8 585.3 2103.7 584.1 2106.7 582.9 2109.6 581.6 2112.5 580.3 2115.4 578.8 2118 577.3 2120.5 575.6 2123 573.9 2125.5 572 2128 570.2 2130.5 568.3 2133 566.5 2135.5 564.7 2138.1 562.8 2140.6 560.9 2143.2 559 2145.7 557.1 2148.1 555.2 2150.5 553.3 2153 551.3 2155.4 549.3 2157.8 547.3 2160.1 545.3 2162.4 543.2 2164.6 541.1 2166.7 538.9 2168.8 536.7 2170.8 534.5 2172.7 532.1 2174.7 529.7 2176.8 527 2178.4 524.8 2180.1 522.6 2181.7 520.2 2183.4 517.8 2185.1 515.3 2186.8 512.7 2188.5 510.1 2190.2 507.4 2192 504.7 2193.8 502 2195.5 499.5 2197.2 497 2198.9 494.4 2200.7 491.8 2202.5 489.2 2204.3 486.5 2206.1 483.8 2207.9 481 2209.7 478.2 2211.4 475.4 2213.1 472.6 2214.8 469.8 2216.4 466.9 2217.8 464.3 2219.2 461.6 2220.5 458.9 2221.8 456.2 2223.1 453.4 2224.3 450.6 2225.5 447.8 2226.8 445 2228 442.2 2229.2 439.4 2230.4 436.6 2231.6 433.8 2232.8 431 2234 428.3 2235.2 425.6 2236.6 422.6 2237.9 419.7 2239.3 416.8 2240.6 413.9 2242 411 2243.3 408.1 2244.6 405.3 2246 402.4 2247.3 399.5 2248.6 396.7 2249.9 393.8 2251.2 390.9 2252.5 388 2253.8 385.1 2255 382.2 2256.3 379.3 2257.6 376.5 2258.8 373.6 2260.1 370.7 2261.3 367.8 2262.6 364.9 2263.8 362 2265 359.1 2266.2 356.2 2267.3 353.3 2268.5 350.4 2269.6 347.5 2270.7 344.6 2271.8 341.7 2272.8 338.9 2273.9 336 2274.9 333.1 2275.9 330.2 2277 327.3 2278 324.4 2279 321.5 2280.1 318.6 2281.1 315.7 2282.2 312.8 2283.3 309.9 2284.4 307 2285.6 304.1 2286.7 301.2 2287.9 298.4 2289 295.5 2290.2 292.6 2291.3 289.7 2292.5 286.8 2293.6 283.9 2294.7 281 2295.7 278.1 2296.7 275.2 2297.7 272.3 2298.6 269.3 2299.6 266.4 2300.5 263.3 2301.4 260.3 2302.3 257.3 2303.1 254.3 2304 251.4 2304.8 248.4 2305.5 245.6 2306.3 242.8 2307 240.2 2307.6 237.6 2308.4 234.2 2309.1 231 2309.7 227.9 2310.3 225 2310.9 222 2311.5 219 2312.1 216" fill="none" stroke="#ff7b00" stroke-width="14" stroke-linecap="round" stroke-linejoin="round"/>
<path d="M2313.7 837.4 2313.4 840.6 2313.1 843.8 2312.4 847.1 2311.3 850.4 2309.7 853.8 2308 857.2 2306.3 860.2 2304.4 863 2302.4 865.5 2300.3 868.2 2298.6 870.5 2296.9 872.9 2295.1 875.4 2293.3 877.9 2291.3 880.2 2288.7 882.8 2285.9 885.4 2283.1 887.8 2280.3 890.2 2277.9 892.5 2275.6 894.8 2273.1 897 2270.3 899.2 2267.9 900.8 2265.2 902.4 2262.3 904 2259.3 905.5 2256.2 907 2253.2 908.4 2250.2 909.8 2247.4 911.1 2244.5 912.2 2241.7 913.4 2238.8 914.5 2235.9 915.6 2233.1 916.7 2230.2 917.8 2227.3 919 2224.5 920.2 2221.6 921.3 2218.7 922.5 2215.9 923.7 2213 924.9 2210.1 926 2207.2 927.1 2204.4 928.2 2201.5 929.3 2198.6 930.3 2195.8 931.3 2192.9 932.3 2190 933.3 2186.7 934.4 2183.3 935.4 2180 936.3 2176.6 937.3 2173.3 938.3 2170 939.3 2166.8 940.4 2163.6 941.6 2160.5 942.8 2157.3 944 2153.9 945.2 2150.4 946.3 2147.7 947.1 2144.8 947.9 2141.9 948.7 2138.9 949.5 2135.8 950.2 2132.7 951 2129.6 951.7 2126.4 952.4 2123.3 953.1 2120.3 953.8 2117.3 954.5 2114.3 955.1 2111.3 955.7 2108.3 956.3 2105.3 956.9 2102.2 957.5 2099.2 958 2096.2 958.6 2093.2 959.2 2090.2 959.8 2087.2 960.4 2084.1 961 2081 961.7 2077.9 962.3 2074.8 963 2071.8 963.6 2068.8 964.2 2065.8 964.8 2063 965.4 2060.2 965.9 2056.7 966.6 2053.4 967.2 2050.2 967.7 2046.9 968.3 2043.6 968.8 2040 969.4 2037.1 969.8 2034.1 970.2 2031 970.6 2027.9 971 2024.7 971.4 2021.4 971.8 2018.1 972.2 2014.7 972.6 2011.3 973 2007.9 973.5 2005.1 973.9 2002.2 974.3 1999.3 974.7 1996.4 975.2 1993.4 975.6 1990.4 976.1 1987.4 976.6 1984.4 977.1 1981.4 977.5 1978.3 978 1975.3 978.5 1972.3 978.9 1969.3 979.4 1966.3 979.8 1963.1 980.3 1959.9 980.7 1956.7 981.2 1953.5 981.6 1950.3 982 1947.1 982.5 1943.9 982.9 1940.7 983.3 1937.5 983.8 1934.3 984.2 1931.1 984.6 1927.9 985.1 1924.7 985.5 1921.5 985.9 1918.3 986.4 1915.1 986.8 1911.9 987.3 1908.7 987.7 1905.5 988.2 1902.4 988.6 1899.2 989 1896 989.5 1892.8 989.9 1889.6 990.4 1886.4 990.8 1883.2 991.2 1880 991.6 1876.8 992 1873.6 992.4 1870.4 992.8 1867.2 993.2 1864 993.6 1860.8 994 1857.6 994.4 1854.4 994.7 1851.2 995.1 1848 995.6 1844.8 996 1841.6 996.4 1838.6 996.8 1835.6 997.3 1832.6 997.7 1829.6 998.2 1826.5 998.7 1823.5 999.2 1820.5 999.7 1817.5 1000.2 1814.5 1000.6 1811.5 1001.1 1808.6 1001.5 1805.7 1001.9 1802.8 1002.3 1800 1002.6 1796.6 1002.9 1793.3 1003.2 1790 1003.4 1786.8 1003.6 1783.6 1003.8 1780.5 1003.9 1777.3 1004.1 1774 1004.2 1770.8 1004.4 1767.4 1004.7 1764.3 1005 1761.2 1005.2 1758 1005.5 1754.8 1005.8 1751.5 1006.2 1748.3 1006.5 1745 1006.8 1741.8 1007.2 1738.5 1007.5 1735.3 1007.9 1732 1008.2 1728.8 1008.6 1725.6 1009 1722.4 1009.3 1719.1 1009.7 1715.9 1010.1 1712.7 1010.4 1709.5 1010.8 1706.3 1011.2 1703.1 1011.6 1699.8 1012 1696.6 1012.5 1693.4 1012.9 1690.2 1013.4 1687.2 1013.9 1684.3 1014.3 1681.3 1014.9 1678.3 1015.4 1675.3 1015.9 1672.4 1016.5 1669.4 1017 1666.4 1017.6 1663.5 1018.1 1660.5 1018.7 1657.5 1019.2 1654.6 1019.7 1651.6 1020.2 1648.6 1020.7 1645.7 1021.1 1642.7 1021.6 1639.7 1022 1636.8 1022.4 1633.8 1022.8 1630.8 1023.3 1627.8 1023.7 1624.9 1024.1 1621.9 1024.6 1618.9 1025 1616 1025.5 1613 1026 1610 1026.5 1607.1 1027.1 1604.2 1027.6 1601.4 1028.2 1598.5 1028.8 1595.6 1029.3 1592.7 1029.9 1589.8 1030.5 1586.8 1031.2 1583.8 1031.8 1580.8 1032.4 1577.6 1033.1 1574.4 1033.7 1571.6 1034.3 1568.8 1034.8 1565.9 1035.4 1563 1036.1 1560 1036.7 1557 1037.4 1553.9 1038 1550.9 1038.7 1547.8 1039.3 1544.6 1040 1541.5 1040.6 1538.4 1041.3 1535.2 1041.9 1532.1 1042.5 1528.9 1043.1 1525.8 1043.7 1522.7 1044.3 1519.6 1044.8 1516.5 1045.3 1513.4 1045.8 1510.4 1046.2 1507.3 1046.7 1504.1 1047.1 1501 1047.5 1497.8 1047.9 1494.7 1048.3 1491.6 1048.6 1488.4 1049 1485.3 1049.3 1482.2 1049.7 1479.1 1050 1476 1050.3 1473 1050.6 1470 1050.9 1467.1 1051.2 1464.2 1051.5 1461.4 1051.7 1458.6 1052 1455.1 1052.3 1451.7 1052.6 1448.4 1052.9 1445.2 1053.1 1442 1053.4 1438.8 1053.6 1435.7 1053.8 1432.6 1054 1429.5 1054.2 1426.4 1054.4 1423.2 1054.7 1420 1054.9 1417 1055.1 1414.1 1055.4 1411.2 1055.6 1408.4 1055.9 1405.5 1056.1 1402.6 1056.4 1399.7 1056.6 1396.8 1056.9 1393.8 1057.1 1390.7 1057.4 1387.5 1057.6 1384.3 1057.9 1380.9 1058.1 1378.3 1058.3 1375.5 1058.4 1372.8 1058.6 1369.9 1058.8 1367 1059 1364 1059.1 1361 1059.3 1358 1059.5 1354.9 1059.6 1351.8 1059.8 1348.7 1059.9 1345.5 1060.1 1342.3 1060.3 1339.1 1060.4 1335.9 1060.6 1332.7 1060.7 1329.5 1060.8 1326.3 1061 1323.2 1061.1 1320 1061.2 1316.9 1061.4 1313.8 1061.5 1310.7 1061.6 1307.6 1061.7 1304.6 1061.8 1301.5 1061.9 1298.5 1062 1295.4 1062.1 1292.4 1062.2 1289.3 1062.3 1286.3 1062.4 1283.2 1062.4 1280.2 1062.5 1277.1 1062.6 1274.1 1062.6 1271 1062.7 1268 1062.8 1264.9 1062.8 1261.9 1062.9 1258.8 1063 1255.8 1063 1252.7 1063.1 1249.7 1063.1 1246.6 1063.2 1243.6 1063.2 1240.5 1063.3 1237.5 1063.4 1234.4 1063.4 1231.4 1063.5 1228.3 1063.5 1225.3 1063.5 1222.2 1063.6 1219.2 1063.6 1216.1 1063.7 1213.1 1063.7 1210 1063.7 1207 1063.8 1203.9 1063.8 1200.9 1063.9 1197.8 1063.9 1194.8 1063.9 1191.7 1064 1188.7 1064 1185.6 1064 1182.6 1064.1 1179.5 1064.1 1176.5 1064.1 1173.4 1064.2 1170.4 1064.2 1167.3 1064.2 1164.3 1064.3 1161.2 1064.3 1158.2 1064.3 1155.1 1064.4 1152.1 1064.4 1149 1064.4 1146 1064.5 1142.9 1064.5 1139.9 1064.5 1136.8 1064.6 1133.8 1064.6 1130.7 1064.7 1127.7 1064.7 1124.6 1064.7 1121.6 1064.8 1118.5 1064.8 1115.5 1064.9 1112.4 1064.9 1109.4 1064.9 1106.3 1065 1103.3 1065 1100.2 1065.1 1097.1 1065.2 1094 1065.2 1090.9 1065.3 1087.7 1065.4 1084.6 1065.4 1081.4 1065.5 1078.2 1065.6 1075 1065.7 1071.8 1065.8 1068.6 1065.9 1065.4 1066 1062.2 1066 1059.1 1066.1 1056 1066.2 1052.9 1066.3 1049.9 1066.4 1046.9 1066.5 1043.9 1066.5 1041 1066.6 1038.2 1066.7 1035.4 1066.7 1032.6 1066.8 1030 1066.8 1026.7 1066.8 1023.5 1066.9 1020.4 1066.9 1017.5 1066.9 1014.7 1066.9 1011.8 1066.9 1009.1 1067 1006.2 1067 1003.4 1067 1000.5 1067 997.4 1067 994.2 1067 990.9 1067 988.3 1067 985.5 1067 982.7 1067 979.9 1067.1 977 1067.1 974 1067.1 971 1067.1 968 1067.1 964.9 1067.2 961.8 1067.2 958.7 1067.2 955.5 1067.2 952.3 1067.2 949.1 1067.3 945.9 1067.3 942.7 1067.3 939.5 1067.3 936.3 1067.3 933.2 1067.4 930 1067.4 926.9 1067.4 923.8 1067.4 920.7 1067.4 917.6 1067.4 914.6 1067.4 911.5 1067.4 908.5 1067.4 905.4 1067.4 902.4 1067.4 899.3 1067.4 896.3 1067.4 893.2 1067.4 890.2 1067.4 887.1 1067.4 884.1 1067.4 881 1067.4 878 1067.4 874.9 1067.4 871.9 1067.4 868.8 1067.4 865.8 1067.4 862.7 1067.4 859.7 1067.4 856.6 1067.4 853.6 1067.4 850.5 1067.4 847.5 1067.4 844.4 1067.4 841.4 1067.4 838.3 1067.3 835.3 1067.3 832.2 1067.3 829.2 1067.3 826.1 1067.2 823.1 1067.2 820 1067.2 817 1067.2 813.9 1067.1 810.9 1067.1 807.8 1067.1 804.8 1067.1 801.7 1067 798.7 1067 795.6 1067 792.6 1067 789.5 1067 786.5 1067 783.4 1067 780.4 1067 777.3 1067 774.3 1067 771.2 1067.1 768.2 1067.1 765.1 1067.1 762.1 1067.1 759 1067.2 756 1067.2 752.9 1067.3 749.9 1067.3 746.8 1067.3 743.8 1067.4 740.7 1067.4 737.7 1067.5 734.6 1067.5 731.6 1067.6 728.5 1067.6 725.5 1067.7 722.4 1067.7 719.4 1067.8 716.3 1067.8 713.3 1067.9 710.2 1067.9 707.2 1067.9 704.2 1068 701.2 1068 698.2 1068 695.3 1068.1 692.4 1068.1 689.5 1068.1 686.6 1068.2 683.7 1068.2 680.8 1068.2 677.9 1068.2 674.9 1068.3 672 1068.3 669 1068.3 665.9 1068.4 662.9 1068.4 659.8 1068.5 656.6 1068.5 653.4 1068.6 650.2 1068.6 646.9 1068.7 643.5 1068.7 640 1068.8 637.4 1068.9 634.7 1068.9 632 1069 629.3 1069 626.5 1069.1 623.6 1069.1 620.7 1069.2 617.8 1069.3 614.9 1069.3 611.9 1069.4 608.9 1069.5 605.8 1069.5 602.7 1069.6 599.6 1069.7 596.5 1069.7 593.4 1069.8 590.2 1069.9 587 1070 583.9 1070.1 580.7 1070.1 577.5 1070.2 574.3 1070.3 571.1 1070.4 567.9 1070.5 564.7 1070.6 561.5 1070.7 558.3 1070.8 555.1 1070.8 552 1070.9 548.8 1071 545.7 1071.1 542.6 1071.2 539.5 1071.3 536.4 1071.4 533.4 1071.5 530.4 1071.6 527.5 1071.7 524.5 1071.9 521.6 1072 518.8 1072.1 516 1072.2 513.2 1072.3 509.9 1072.4 506.7 1072.6 503.4 1072.7 500.3 1072.8 497.1 1073 494 1073.1 490.9 1073.3 487.8 1073.4 484.8 1073.5 481.7 1073.7 478.7 1073.8 475.7 1074 472.7 1074.1 469.8 1074.3 466.8 1074.4 463.8 1074.6 460.9 1074.8 458 1074.9 455 1075.1 452.1 1075.3 449.2 1075.5 446.2 1075.7 443.3 1075.9 440.3 1076.1 437.4 1076.3 434.4 1076.5 431.4 1076.7 428.4 1077 425.4 1077.2 422.4 1077.5 419.3 1077.7 416.3 1078 413.2 1078.3 410.1 1078.6 407 1079 404 1079.3 400.9 1079.6 397.8 1080 394.7 1080.3 391.6 1080.7 388.5 1081.1 385.4 1081.4 382.3 1081.8 379.3 1082.2 376.2 1082.5 373.1 1082.9 370.1 1083.3 367.1 1083.6 364 1084 361 1084.3 358 1084.7 355.1 1085 352.1 1085.3 349.2 1085.6 346.3 1085.9 343.4 1086.2 340.5 1086.5 337.7 1086.7 334.4 1087 331.1 1087.2 327.7 1087.5 324.2 1087.7 320.7 1087.9 317.2 1088.1 313.7 1088.3 310.2 1088.5 306.8 1088.7 303.4 1088.8 300 1089 296.7 1089.2 293.5 1089.3 290.4 1089.5 287.4 1089.6 284.6 1089.8 281.9 1089.9 279.4 1090.1 277 1090.2 274.8 1090.4 272.8 1090.5 271.1 1090.7 267.4 1091.1 264.7 1091.6 262 1092" fill="none" stroke="#555555" stroke-width="13" stroke-linecap="round" stroke-linejoin="round"/>
<path d="M263 1071 266 1070.7 268.9 1070.4 271.7 1070.1 274.6 1069.8 277.5 1069.4 280.4 1069.1 283.5 1068.8 286.7 1068.4 290 1068 292.6 1067.7 295.2 1067.3 297.9 1066.9 300.6 1066.6 303.4 1066.2 306.3 1065.7 309.2 1065.3 312.1 1064.9 315.1 1064.4 318.2 1064 321.3 1063.6 324.4 1063.1 327.7 1062.7 330.9 1062.3 334.3 1061.9 337.7 1061.5 340.3 1061.2 343 1060.9 345.7 1060.7 348.4 1060.4 351.2 1060.1 354.1 1059.8 357 1059.5 360 1059.3 362.9 1059 366 1058.7 369 1058.5 372.1 1058.2 375.2 1057.9 378.3 1057.7 381.4 1057.4 384.6 1057.1 387.8 1056.9 390.9 1056.6 394.1 1056.4 397.3 1056.1 400.5 1055.9 403.6 1055.6 406.8 1055.4 409.9 1055.2 413.1 1054.9 416.2 1054.7 419.3 1054.5 422.4 1054.2 425.4 1054 428.4 1053.8 431.4 1053.6 434.4 1053.3 437.4 1053.1 440.3 1052.9 443.3 1052.7 446.2 1052.5 449.2 1052.3 452.1 1052.1 455 1051.9 458 1051.7 460.9 1051.5 463.9 1051.3 466.8 1051.1 469.8 1050.9 472.7 1050.8 475.7 1050.6 478.7 1050.4 481.7 1050.2 484.8 1050 487.8 1049.9 490.9 1049.7 494 1049.5 497.1 1049.3 500.3 1049.2 503.4 1049 506.7 1048.8 509.9 1048.7 513.2 1048.5 516 1048.4 518.8 1048.2 521.6 1048.1 524.5 1048 527.5 1047.9 530.4 1047.7 533.4 1047.6 536.4 1047.5 539.5 1047.4 542.6 1047.3 545.7 1047.1 548.8 1047 552 1046.9 555.1 1046.8 558.3 1046.7 561.5 1046.6 564.7 1046.5 567.9 1046.4 571.1 1046.3 574.3 1046.2 577.5 1046.1 580.7 1046 583.9 1045.9 587 1045.8 590.2 1045.7 593.4 1045.6 596.5 1045.5 599.6 1045.4 602.7 1045.3 605.8 1045.2 608.9 1045.1 611.9 1045 614.9 1044.9 617.8 1044.8 620.8 1044.6 623.6 1044.5 626.5 1044.4 629.3 1044.3 632 1044.2 634.7 1044.1 637.4 1044 640 1043.9 643.5 1043.7 646.9 1043.6 650.2 1043.4 653.4 1043.3 656.6 1043.1 659.8 1043 662.9 1042.8 665.9 1042.7 669 1042.5 672 1042.3 674.9 1042.2 677.9 1042 680.8 1041.9 683.7 1041.7 686.6 1041.6 689.5 1041.4 692.4 1041.3 695.3 1041.1 698.2 1041 701.2 1040.8 704.2 1040.7 707.2 1040.5 710.2 1040.4 713.3 1040.3 716.3 1040.1 719.4 1040 722.4 1039.9 725.5 1039.7 728.5 1039.6 731.6 1039.5 734.6 1039.4 737.7 1039.2 740.7 1039.1 743.8 1039 746.8 1038.9 749.9 1038.8 752.9 1038.6 756 1038.5 759 1038.4 762.1 1038.3 765.1 1038.2 768.2 1038.1 771.2 1038 774.3 1037.9 777.3 1037.8 780.4 1037.7 783.4 1037.6 786.5 1037.5 789.5 1037.4 792.6 1037.3 795.6 1037.3 798.7 1037.2 801.7 1037.1 804.8 1037 807.8 1036.9 810.9 1036.9 813.9 1036.8 817 1036.7 820 1036.7 823.1 1036.6 826.1 1036.5 829.2 1036.5 832.2 1036.4 835.3 1036.3 838.3 1036.3 841.4 1036.2 844.4 1036.1 847.5 1036.1 850.5 1036 853.6 1035.9 856.6 1035.9 859.7 1035.8 862.7 1035.7 865.8 1035.7 868.8 1035.6 871.9 1035.6 874.9 1035.5 878 1035.4 881 1035.4 884.1 1035.3 887.1 1035.3 890.2 1035.2 893.2 1035.2 896.3 1035.1 899.3 1035.1 902.4 1035 905.4 1035 908.5 1034.9 911.5 1034.9 914.6 1034.8 917.6 1034.8 920.7 1034.7 923.7 1034.7 926.8 1034.6 929.7 1034.6 932.7 1034.5 935.7 1034.5 938.6 1034.5 941.6 1034.4 944.5 1034.4 947.4 1034.4 950.4 1034.4 953.4 1034.3 956.3 1034.3 959.3 1034.3 962.3 1034.2 965.3 1034.2 968.4 1034.1 971.5 1034.1 974.6 1034.1 977.8 1034 981 1033.9 984.2 1033.9 987.5 1033.8 990.9 1033.7 993.6 1033.6 996.4 1033.5 999.2 1033.5 1002.1 1033.4 1005 1033.3 1008 1033.2 1011 1033.1 1014 1033 1017.1 1032.9 1020.2 1032.8 1023.3 1032.7 1026.4 1032.5 1029.6 1032.4 1032.8 1032.3 1036 1032.2 1039.2 1032.1 1042.4 1031.9 1045.6 1031.8 1048.8 1031.7 1052 1031.6 1055.1 1031.4 1058.3 1031.3 1061.5 1031.2 1064.7 1031 1067.8 1030.9 1070.9 1030.8 1074 1030.6 1077.1 1030.5 1080.1 1030.4 1083.1 1030.2 1086.1 1030.1 1089 1030 1091.9 1029.9 1094.7 1029.7 1097.5 1029.6 1100.2 1029.5 1103.6 1029.4 1106.9 1029.2 1110.1 1029.1 1113.3 1028.9 1116.5 1028.8 1119.6 1028.6 1122.7 1028.5 1125.8 1028.4 1128.8 1028.2 1131.8 1028.1 1134.8 1027.9 1137.8 1027.8 1140.7 1027.7 1143.7 1027.5 1146.6 1027.4 1149.5 1027.2 1152.5 1027 1155.4 1026.9 1158.4 1026.7 1161.4 1026.5 1164.4 1026.4 1167.4 1026.2 1170.4 1026 1173.5 1025.8 1176.6 1025.6 1179.7 1025.4 1182.9 1025.2 1186.1 1025.1 1189.3 1024.9 1192.5 1024.7 1195.8 1024.5 1199 1024.3 1202.2 1024.1 1205.4 1023.8 1208.6 1023.6 1211.7 1023.4 1214.8 1023.2 1217.9 1022.9 1221 1022.7 1224 1022.4 1226.9 1022.2 1229.8 1021.9 1232.6 1021.6 1235.3 1021.3 1237.9 1021 1240.5 1020.7 1244.2 1020.2 1247.8 1019.6 1251.3 1019 1254.7 1018.4 1258 1017.8 1261.2 1017.2 1264.2 1016.5 1267.2 1015.9 1270.1 1015.3 1272.9 1014.7 1275.6 1014.2 1279.5 1013.5 1283.1 1013 1286.5 1012.4 1289.8 1011.7 1293.2 1010.7 1296.2 1009.5 1299.1 1008 1302 1006.4 1304.9 1004.6 1307.8 1002.9 1310.7 1001.1 1313.7 999.3 1316.6 997.4 1319.6 995.5 1322.5 993.6 1325.4 991.6 1328.2 989.6 1330.9 987.6 1333.5 985.6 1336.1 983.6 1338.7 981.5 1341.1 979.3 1343.5 977 1345.5 974.8 1347.4 972.6 1349.3 970.3 1351.1 967.9 1352.9 965.4 1354.7 962.8 1356.5 960 1358 957.6 1359.5 955.2 1361 952.6 1362.5 949.9 1364 947.1 1365.5 944.3 1367 941.5 1368.4 938.6 1369.8 935.8 1371.2 933 1372.6 930.2 1374 927.2 1375.4 924.1 1376.8 921.1 1378.2 918 1379.5 914.9 1380.8 911.8 1382.1 908.8 1383.4 905.8 1384.6 903 1385.8 900.2 1387.2 897 1388.6 893.9 1390 890.9 1391.3 888 1392.6 885.2 1393.8 882.5 1394.8 880 1396.2 876.5 1397.4 873.4 1398.5 870 1399.4 866.8 1400.3 863.3 1401.2 859.6 1402.1 856.1 1403.1 852.7 1404.3 849.4 1405.6 846.3 1406.8 843.2 1408 840 1409.1 836.6 1410.1 833.1 1411 829.6 1412 826 1412.8 823 1413.6 820 1414.4 817 1415.2 814 1416 811 1416.9 807.7 1417.8 804.6 1418.8 801.3 1419.8 797.6 1420.5 794.9 1421.2 791.9 1422 788.7 1422.8 785.4 1423.6 782 1424.4 778.7 1425.2 775.5 1426 772.6 1426.8 770 1427.9 766.8 1429 764.1 1430.2 761.3 1431.4 758 1432.1 755.7 1432.9 753.2 1433.7 750.5 1434.6 747.7 1435.4 744.7 1436.3 741.6 1437.2 738.4 1438 735.2 1438.9 732 1439.8 728.9 1440.6 725.8 1441.4 722.8 1442.2 719.9 1442.9 717 1443.6 714 1444.3 711.1 1445 708.2 1445.7 705.2 1446.4 702.3 1447.1 699.4 1447.8 696.4 1448.6 693.5 1449.4 690.6 1450.2 687.7 1451.1 684.8 1452 681.8 1453 678.9 1453.9 675.9 1454.9 673 1455.9 670.1 1457 667.2 1458 664.2 1459.1 661.3 1460.2 658.4 1461.4 655.5 1462.5 652.6 1463.7 649.6 1464.9 646.6 1466.1 643.6 1467.4 640.5 1468.6 637.5 1469.9 634.5 1471.3 631.5 1472.6 628.5 1474 625.6 1475.3 622.8 1476.8 620.1 1478.2 617.5 1479.9 614.6 1481.6 611.7 1483.3 608.9 1485.1 606.2 1486.9 603.5 1488.7 601 1490.6 598.7 1492.4 596.5 1494.3 594.5 1496.8 591.9 1499.4 589.5 1502 587.4 1504.6 585.8 1507.3 585.1 1510.1 585.3 1513.1 586.3 1516.1 587.9 1519 589.7 1521.7 591.6 1524.2 593.5 1526.6 595.7 1528.9 598.1 1531.1 600.6 1533.2 603.1 1535.4 605.8 1537.5 608.6 1539.5 611.5 1541.4 614.5 1543.3 617.6 1544.9 620.3 1546.4 623.1 1547.8 625.9 1549.2 628.8 1550.6 631.8 1552 634.8 1553.3 637.7 1554.5 640.8 1555.8 643.9 1557 647.1 1558.2 650.2 1559.4 653.4 1560.6 656.5 1561.8 659.6 1563.1 662.7 1564.3 665.8 1565.6 668.8 1566.8 671.9 1568.1 675 1569.3 678.1 1570.5 681.2 1571.8 684.3 1573 687.4 1574.2 690.4 1575.4 693.5 1576.7 696.6 1577.9 699.7 1579.1 702.8 1580.3 705.9 1581.5 709 1582.7 712.1 1583.9 715.1 1585.2 718.2 1586.5 721.3 1587.9 724.4 1589.2 727.5 1590.7 730.6 1592.1 733.7 1593.6 736.8 1595.1 739.8 1596.6 742.9 1598 745.6 1599.4 748.4 1600.9 751.1 1602.3 753.8 1603.8 756.6 1605.3 759.2 1606.7 761.9 1608.2 764.5 1609.8 767.3 1611.4 770 1613 772.7 1614.5 775.4 1616.1 778 1617.6 780.6 1619 783 1620.8 786.3 1622.5 789.4 1624.2 792.4 1626 795.6 1627.6 798.1 1629.2 800.7 1630.9 803.3 1632.7 806 1634.5 808.6 1636.4 811.2 1638.4 813.8 1640.4 816.4 1642.5 819 1644.6 821.6 1646.8 824.2 1648.9 826.8 1651.1 829.4 1653.3 832.1 1655.4 834.8 1657.7 837.4 1660 840 1662.4 842.4 1664.9 844.7 1667.4 846.8 1670 848.9 1672.7 850.9 1675.3 852.9 1678 854.8 1680.5 856.6 1683.1 858.5 1685.6 860.2 1688.2 861.9 1690.8 863.6 1693.6 865.2 1696.4 866.7 1699.2 868.1 1702.2 869.5 1705.2 870.9 1708.2 872.2 1711.3 873.4 1714.3 874.6 1717.2 875.7 1720.2 876.6 1723.2 877.6 1726.1 878.4 1729.1 879.3 1732.1 880 1735.1 880.8 1738.1 881.5 1741 882.2 1744 882.8 1747 883.4 1749.9 884 1752.9 884.5 1755.9 885 1759.3 885.5 1762.7 885.9 1766 886.2 1769.4 886.5 1773 886.8 1776.7 887.1 1779.6 887.3 1782.5 887.5 1785.6 887.7 1788.7 887.8 1791.9 888 1795.1 888.1 1798.3 888.3 1801.5 888.4 1804.7 888.5 1807.9 888.6 1811.1 888.7 1814.2 888.8 1817.4 888.8 1820.5 888.8 1823.7 888.9 1826.9 888.9 1830.1 888.9 1833.3 888.9 1836.6 889 1840 889 1842.9 889 1845.8 889.1 1848.8 889.1 1851.7 889.2 1854.7 889.2 1857.7 889.3 1860.7 889.3 1863.8 889.4 1867 889.4 1870.1 889.4 1873.4 889.5 1876.6 889.5 1880 889.5 1882.7 889.5 1885.5 889.5 1888.4 889.5 1891.3 889.5 1894.2 889.6 1897.2 889.6 1900.3 889.6 1903.3 889.6 1906.4 889.6 1909.5 889.6 1912.6 889.6 1915.7 889.6 1918.8 889.5 1921.9 889.5 1925 889.5 1928.1 889.4 1931.1 889.3 1934.1 889.2 1937.1 889.1 1940 889 1943.2 888.8 1946.4 888.6 1949.6 888.4 1952.8 888.2 1956 887.9 1959.2 887.6 1962.4 887.4 1965.5 887.1 1968.6 886.8 1971.7 886.5 1974.8 886.2 1977.9 885.9 1980.9 885.6 1983.9 885.3 1986.8 885.1 1989.7 884.9 1992.6 884.7 1996 884.5 1999.3 884.4 2002.5 884.3 2005.7 884.2 2008.9 884.1 2012 884.1 2015.1 884 2018.2 883.9 2021.2 883.8 2024.2 883.6 2027.1 883.5 2030.1 883.2 2033.3 882.9 2036.3 882.5 2039.4 882 2042.4 881.5 2045.4 881 2048.3 880.5 2051.3 880 2054.2 879.5 2057.2 879 2060.2 878.6 2063.2 878.2 2066.4 877.9 2069.5 877.6 2072.7 877.4 2075.8 877.1 2078.9 876.8 2082 876.6 2084.9 876.3 2087.6 875.9 2090.2 875.6 2093.6 875.1 2096.6 874.5 2099.5 873.9 2102.4 873.3 2105.3 872.6 2108.2 871.8 2111 870.8 2113.9 869.8 2116.9 868.9 2120.3 868.1 2122.9 867.7 2125.6 867.3 2128.5 867 2131.6 866.7 2134.7 866.5 2137.9 866.2 2141 866 2144.2 865.7 2147.3 865.4 2150.4 865.1 2153.4 864.7 2156.4 864.3 2159.4 863.9 2162.5 863.5 2165.5 863 2168.5 862.6 2171.5 862.1 2174.5 861.6 2177.5 861.1 2180.5 860.6 2183.5 860.1 2186.5 859.5 2189.5 858.9 2192.5 858.2 2195.5 857.6 2198.5 857 2201.5 856.3 2204.5 855.7 2207.5 855.1 2210.5 854.6 2213.8 854 2217.2 853.5 2220.7 852.9 2224.1 852.4 2227.5 851.9 2230.8 851.4 2234.1 850.9 2237.1 850.5 2240 850.1 2243.4 849.6 2246.4 849.3 2249.3 848.9 2252.3 848.5 2255.8 848 2258.5 847.6 2261.4 847.1 2264.6 846.6 2267.9 846.1 2271.3 845.5 2274.7 844.9 2278.1 844.3 2281.5 843.7 2284.8 843.1 2287.9 842.5 2290.9 842 2294.4 841.3 2297.8 840.7 2301 840 2304.2 839.4 2307.3 838.7 2310.5 838.1 2313.7 837.4" fill="none" stroke="#555555" stroke-width="13" stroke-linecap="round" stroke-linejoin="round"/>
<path d="M2304.8 744 2304.4 747.7 2304 751.3 2303.5 755 2302.8 758.6 2301.9 762.2 2301 766 2300.2 769.4 2299.3 772.9 2298.4 776.5 2297.5 780 2296.6 783.3 2295.6 786.5 2294.6 789.8 2293.5 793 2292.4 796.2 2291.2 799.5 2289.9 802.7 2288.5 806 2287.1 808.9 2285.7 811.9 2284.2 814.9 2282.6 817.9 2281 821 2279.6 823.8 2278.1 826.6 2276.6 829.5 2275.1 832.4 2273.6 835.2 2272 838 2270.4 840.7 2268.8 843.4 2267.1 846.1 2265.4 848.7 2263.7 851.4 2262 854 2260.2 856.7 2258.4 859.4 2256.6 862.1 2254.7 864.8 2252.9 867.4 2251 870 2248.8 872.8 2246.6 875.5 2244.4 878.2 2242.2 880.9 2240 883.5 2238 886 2236.1 888.5 2234.1 890.9 2232.1 893.4 2230 896 2227.8 898.5 2225.6 901.1 2223.2 903.7 2220.8 906.4 2218.4 909 2216 911.5 2213.6 914 2211.2 916.5 2208.8 918.9 2206.3 921.3 2203.7 923.7 2201 926 2198.6 927.9 2196 929.7 2193.3 931.5 2190.6 933.3 2187.8 935.1 2185.1 936.8 2182.5 938.4 2180 940 2176.9 942 2174 943.8 2171.2 945.6 2168.3 947.3 2165.4 949 2162.4 950.7 2159.4 952.3 2156.4 953.8 2153.4 955.4 2150.4 957 2147.4 958.6 2144.4 960.2 2141.3 961.8 2138.3 963.4 2135.3 965 2132.4 966.7 2129.6 968.3 2126.7 970 2123.7 971.7 2120.3 973.4 2117.7 974.6 2115 975.8 2112.1 977 2109.1 978.2 2105.9 979.4 2102.8 980.7 2099.6 981.9 2096.4 983.1 2093.3 984.3 2090.2 985.4 2087.2 986.5 2084.1 987.6 2081 988.6 2077.9 989.7 2074.8 990.7 2071.7 991.7 2068.7 992.8 2065.8 993.8 2062.9 994.9 2060.2 996 2057 997.4 2053.9 998.9 2050.9 1000.4 2048 1001.9 2045.2 1003.3 2042.5 1004.7 2040 1006 2037.1 1007.5 2034.5 1008.9 2031.9 1010.3 2028.7 1011.5 2026.2 1012.3 2023.5 1013 2020.5 1013.7 2017.4 1014.3 2014.1 1014.9 2010.8 1015.5 2007.4 1016.1 2004 1016.6 2000.7 1017.2 1997.5 1017.7 1994.4 1018.2 1991.3 1018.6 1988.1 1019 1985 1019.4 1981.9 1019.7 1978.8 1020.1 1975.6 1020.5 1972.5 1020.9 1969.4 1021.4 1966.3 1021.9 1963.2 1022.5 1960 1023.2 1956.9 1023.9 1953.8 1024.6 1950.7 1025.4 1947.6 1026.1 1944.5 1026.9 1941.3 1027.7 1938.2 1028.4 1935.1 1029.1 1932 1029.8 1928.9 1030.5 1925.8 1031.1 1922.7 1031.8 1919.7 1032.4 1916.6 1033.1 1913.4 1033.7 1910.3 1034.3 1907.2 1034.9 1904 1035.4 1901 1035.9 1897.9 1036.3 1894.8 1036.7 1891.6 1037.1 1888.5 1037.4 1885.3 1037.7 1882.2 1038.1 1879.1 1038.4 1876 1038.8 1873 1039.1 1870 1039.5 1866.8 1039.9 1863.6 1040.4 1860.5 1040.9 1857.5 1041.4 1854.5 1041.8 1851.4 1042.3 1848.2 1042.8 1845 1043.2 1841.6 1043.7 1838.6 1044.1 1835.6 1044.5 1832.4 1044.9 1829.2 1045.3 1826 1045.7 1822.6 1046.1 1819.3 1046.5 1816 1046.8 1812.7 1047.2 1809.4 1047.5 1806.2 1047.8 1803.1 1048.1 1800 1048.4 1796.6 1048.7 1793.4 1048.9 1790.2 1049 1787.1 1049.1 1784 1049.3 1780.9 1049.4 1777.7 1049.5 1774.4 1049.7 1771 1049.8 1767.4 1050.1 1764.7 1050.3 1762 1050.5 1759.2 1050.8 1756.3 1051.1 1753.3 1051.3 1750.3 1051.6 1747.3 1051.9 1744.2 1052.3 1741.1 1052.6 1737.9 1052.9 1734.7 1053.3 1731.5 1053.6 1728.3 1053.9 1725.2 1054.3 1722 1054.6 1718.8 1054.9 1715.7 1055.3 1712.6 1055.6 1709.5 1055.9 1706.5 1056.2 1703.4 1056.5 1700.4 1056.8 1697.3 1057.1 1694.3 1057.5 1691.2 1057.8 1688.2 1058.1 1685.1 1058.4 1682.1 1058.7 1679 1059 1676 1059.3 1672.9 1059.6 1669.9 1059.9 1666.8 1060.2 1663.8 1060.5 1660.7 1060.8 1657.7 1061.1 1654.6 1061.4 1651.6 1061.7 1648.6 1062 1645.5 1062.3 1642.5 1062.5 1639.4 1062.8 1636.4 1063.1 1633.3 1063.4 1630.3 1063.6 1627.2 1063.9 1624.2 1064.2 1621.1 1064.4 1618.1 1064.7 1615 1064.9 1612 1065.2 1608.9 1065.4 1605.9 1065.6 1602.8 1065.9 1599.8 1066.1 1596.7 1066.3 1593.7 1066.5 1590.7 1066.7 1587.6 1066.9 1584.6 1067.1 1581.5 1067.2 1578.5 1067.4 1575.4 1067.6 1572.4 1067.7 1569.3 1067.9 1566.3 1068 1563.2 1068.1 1560.2 1068.3 1557.1 1068.4 1554.1 1068.5 1551 1068.7 1548 1068.8 1544.9 1069 1541.9 1069.1 1538.8 1069.2 1535.8 1069.4 1532.8 1069.6 1529.7 1069.7 1526.7 1069.9 1523.6 1070 1520.6 1070.2 1517.5 1070.3 1514.5 1070.5 1511.4 1070.7 1508.4 1070.8 1505.3 1071 1502.3 1071.1 1499.2 1071.3 1496.2 1071.5 1493.1 1071.6 1490.1 1071.8 1487 1071.9 1484 1072 1480.9 1072.2 1477.9 1072.3 1474.8 1072.4 1471.7 1072.5 1468.6 1072.7 1465.5 1072.8 1462.4 1072.9 1459.2 1073 1456.1 1073.1 1452.9 1073.2 1449.8 1073.3 1446.7 1073.4 1443.6 1073.5 1440.5 1073.6 1437.4 1073.7 1434.4 1073.7 1431.4 1073.8 1428.5 1073.9 1425.6 1074 1422.8 1074.1 1420 1074.2 1416.8 1074.3 1413.7 1074.4 1410.7 1074.5 1407.8 1074.7 1404.9 1074.8 1402.1 1074.9 1399.3 1075 1396.4 1075.1 1393.5 1075.2 1390.5 1075.3 1387.5 1075.4 1384.3 1075.5 1380.9 1075.6 1378.3 1075.7 1375.5 1075.7 1372.7 1075.8 1369.9 1075.8 1367 1075.9 1364 1075.9 1361 1075.9 1358 1076 1354.9 1076 1351.8 1076 1348.7 1076.1 1345.5 1076.1 1342.3 1076.1 1339.1 1076.1 1335.9 1076.2 1332.7 1076.2 1329.5 1076.2 1326.3 1076.3 1323.2 1076.3 1320 1076.4 1316.9 1076.4 1313.8 1076.4 1310.7 1076.5 1307.6 1076.6 1304.6 1076.6 1301.5 1076.7 1298.5 1076.7 1295.4 1076.8 1292.4 1076.9 1289.3 1077 1286.3 1077 1283.2 1077.1 1280.2 1077.2 1277.1 1077.3 1274.1 1077.3 1271 1077.4 1268 1077.5 1264.9 1077.6 1261.9 1077.6 1258.8 1077.7 1255.8 1077.8 1252.7 1077.9 1249.7 1078 1246.6 1078 1243.6 1078.1 1240.5 1078.2 1237.5 1078.3 1234.4 1078.4 1231.4 1078.4 1228.3 1078.5 1225.3 1078.6 1222.2 1078.7 1219.2 1078.7 1216.1 1078.8 1213.1 1078.9 1210 1079 1207 1079.1 1203.9 1079.1 1200.9 1079.2 1197.8 1079.3 1194.8 1079.4 1191.7 1079.4 1188.7 1079.5 1185.6 1079.6 1182.6 1079.7 1179.5 1079.8 1176.5 1079.8 1173.4 1079.9 1170.4 1080 1167.3 1080.1 1164.3 1080.2 1161.2 1080.2 1158.2 1080.3 1155.1 1080.4 1152.1 1080.5 1149 1080.5 1146 1080.6 1142.9 1080.7 1139.9 1080.8 1136.8 1080.8 1133.8 1080.9 1130.7 1081 1127.7 1081.1 1124.6 1081.1 1121.6 1081.2 1118.5 1081.3 1115.5 1081.4 1112.4 1081.5 1109.4 1081.5 1106.3 1081.6 1103.3 1081.7 1100.2 1081.8 1097.1 1081.9 1094 1082 1090.9 1082.1 1087.7 1082.2 1084.6 1082.3 1081.4 1082.4 1078.2 1082.5 1075 1082.6 1071.8 1082.7 1068.6 1082.8 1065.4 1082.9 1062.2 1083 1059.1 1083.1 1056 1083.2 1052.9 1083.3 1049.9 1083.4 1046.9 1083.5 1043.9 1083.6 1041 1083.7 1038.2 1083.8 1035.4 1083.9 1032.6 1083.9 1030 1084 1026.7 1084.1 1023.5 1084.1 1020.4 1084.2 1017.5 1084.2 1014.7 1084.2 1011.8 1084.3 1009.1 1084.3 1006.2 1084.3 1003.4 1084.3 1000.5 1084.4 997.4 1084.4 994.2 1084.4 990.9 1084.5 988.3 1084.6 985.5 1084.6 982.7 1084.7 979.9 1084.7 977 1084.8 974 1084.9 971 1084.9 968 1085 964.9 1085.1 961.8 1085.2 958.7 1085.2 955.5 1085.3 952.3 1085.4 949.1 1085.5 945.9 1085.6 942.7 1085.7 939.5 1085.7 936.3 1085.8 933.2 1085.9 930 1086 926.9 1086.1 923.8 1086.2 920.7 1086.3 917.6 1086.4 914.6 1086.5 911.5 1086.6 908.5 1086.7 905.4 1086.8 902.4 1086.9 899.3 1087 896.3 1087.2 893.2 1087.3 890.2 1087.4 887.1 1087.5 884.1 1087.6 881 1087.7 878 1087.9 874.9 1088 871.9 1088.1 868.8 1088.2 865.8 1088.3 862.7 1088.5 859.7 1088.6 856.6 1088.7 853.6 1088.8 850.5 1088.9 847.5 1089 844.4 1089.1 841.4 1089.2 838.3 1089.3 835.3 1089.4 832.2 1089.5 829.2 1089.6 826.1 1089.7 823.1 1089.8 820 1089.9 817 1090 813.9 1090.1 810.9 1090.2 807.8 1090.3 804.8 1090.4 801.7 1090.5 798.7 1090.6 795.6 1090.7 792.6 1090.8 789.5 1090.9 786.5 1091 783.4 1091.1 780.4 1091.2 777.3 1091.3 774.3 1091.4 771.2 1091.5 768.2 1091.6 765.1 1091.7 762.1 1091.7 759 1091.8 756 1091.9 752.9 1092 749.9 1092.1 746.8 1092.2 743.8 1092.3 740.7 1092.4 737.7 1092.4 734.6 1092.5 731.6 1092.6 728.5 1092.7 725.5 1092.8 722.4 1092.9 719.4 1093 716.3 1093.1 713.3 1093.2 710.2 1093.3 707.2 1093.4 704.2 1093.5 701.2 1093.6 698.2 1093.7 695.3 1093.9 692.4 1094 689.5 1094.1 686.6 1094.2 683.7 1094.3 680.8 1094.5 677.9 1094.6 674.9 1094.7 672 1094.8 669 1095 665.9 1095.1 662.9 1095.2 659.8 1095.3 656.6 1095.4 653.4 1095.6 650.2 1095.7 646.9 1095.8 643.5 1095.9 640 1096 637.4 1096.1 634.7 1096.1 632 1096.2 629.3 1096.3 626.5 1096.3 623.6 1096.4 620.8 1096.5 617.8 1096.5 614.9 1096.6 611.9 1096.6 608.9 1096.7 605.8 1096.7 602.7 1096.8 599.6 1096.8 596.5 1096.9 593.4 1096.9 590.2 1097 587 1097 583.9 1097.1 580.7 1097.1 577.5 1097.2 574.3 1097.2 571.1 1097.3 567.9 1097.3 564.7 1097.4 561.5 1097.4 558.3 1097.5 555.1 1097.6 552 1097.6 548.8 1097.7 545.7 1097.7 542.6 1097.8 539.5 1097.9 536.4 1097.9 533.4 1098 530.4 1098.1 527.5 1098.2 524.5 1098.2 521.6 1098.3 518.8 1098.4 516 1098.5 513.2 1098.6 509.9 1098.7 506.7 1098.8 503.4 1099 500.3 1099.1 497.1 1099.2 494 1099.4 490.9 1099.5 487.8 1099.7 484.8 1099.8 481.7 1100 478.7 1100.1 475.7 1100.3 472.7 1100.4 469.8 1100.6 466.8 1100.8 463.9 1100.9 460.9 1101.1 458 1101.2 455 1101.4 452.1 1101.6 449.2 1101.7 446.2 1101.9 443.3 1102.1 440.3 1102.2 437.4 1102.4 434.4 1102.5 431.4 1102.7 428.4 1102.8 425.4 1103 422.4 1103.2 419.3 1103.3 416.2 1103.5 413.1 1103.6 410 1103.8 406.9 1103.9 403.7 1104.1 400.6 1104.2 397.4 1104.4 394.3 1104.6 391.1 1104.7 388 1104.9 384.9 1105 381.7 1105.2 378.6 1105.4 375.5 1105.5 372.4 1105.7 369.3 1105.8 366.3 1106 363.3 1106.1 360.3 1106.3 357.3 1106.4 354.4 1106.6 351.5 1106.7 348.7 1106.9 345.8 1107 343.1 1107.1 340.4 1107.3 337.7 1107.4 334.3 1107.6 330.9 1107.7 327.6 1107.9 324.4 1108.1 321.2 1108.2 318.1 1108.4 315 1108.5 312 1108.7 309 1108.8 306 1109 303.1 1109.1 300.1 1109.3 297.1 1109.4 294.1 1109.6 291.1 1109.7 288.1 1109.8 285 1110" fill="none" stroke="#00b0f0" stroke-width="15.5" stroke-linecap="round" stroke-linejoin="round"/>
<path d="M260 1071.5 263.1 1071.3 266.2 1071 269.3 1070.7 272.4 1070.5 275.5 1070.2 278.5 1070 281.6 1069.7 284.7 1069.5 287.8 1069.2 290.9 1068.9 293.9 1068.7 297 1068.4 300.1 1068.2 303.2 1067.9 306.3 1067.7 309.4 1067.4 312.5 1067.2 315.6 1066.9 318.7 1066.7 321.9 1066.4 325 1066.2 328.2 1066 331.3 1065.7 334.5 1065.5 337.7 1065.3 340.6 1065.1 343.6 1064.9 346.5 1064.7 349.5 1064.5 352.5 1064.3 355.5 1064.1 358.5 1063.9 361.5 1063.8 364.5 1063.6 367.5 1063.4 370.6 1063.2 373.6 1063 376.6 1062.9 379.7 1062.7 382.7 1062.5 385.8 1062.4 388.8 1062.2 391.9 1062 394.9 1061.9 398 1061.7 401.1 1061.5 404.1 1061.4 407.2 1061.2 410.2 1061.1 413.3 1060.9 416.3 1060.8 419.3 1060.7 422.4 1060.5 425.4 1060.4 428.4 1060.3 431.4 1060.1 434.4 1060 437.3 1059.9 440.3 1059.8 443.2 1059.7 446.2 1059.6 449.1 1059.5 452 1059.4 454.9 1059.3 457.8 1059.2 460.7 1059.1 463.7 1059 466.6 1058.9 469.6 1058.8 472.5 1058.7 475.5 1058.6 478.5 1058.5 481.5 1058.5 484.5 1058.4 487.6 1058.3 490.7 1058.2 493.8 1058.1 496.9 1058.1 500.1 1058 503.3 1057.9 506.6 1057.8 509.9 1057.8 513.2 1057.7 515.9 1057.6 518.7 1057.6 521.6 1057.5 524.4 1057.5 527.4 1057.4 530.4 1057.4 533.4 1057.4 536.4 1057.3 539.5 1057.3 542.6 1057.3 545.8 1057.2 549 1057.2 552.2 1057.2 555.4 1057.1 558.6 1057.1 561.9 1057.1 565.1 1057 568.4 1057 571.7 1057 575 1057 578.3 1056.9 581.5 1056.9 584.8 1056.9 588.1 1056.9 591.3 1056.8 594.6 1056.8 597.8 1056.8 601 1056.8 604.2 1056.7 607.4 1056.7 610.5 1056.7 613.6 1056.7 616.7 1056.6 619.7 1056.6 622.7 1056.6 625.7 1056.5 628.6 1056.5 631.5 1056.4 634.3 1056.4 637.1 1056.4 639.8 1056.3 642.4 1056.3 645 1056.2 647.5 1056.2 650 1056.1 653.6 1056 657 1055.9 660.3 1055.8 663.5 1055.7 666.7 1055.6 669.7 1055.5 672.7 1055.4 675.6 1055.3 678.5 1055.1 681.3 1055 684.2 1054.9 687 1054.8 689.8 1054.7 692.6 1054.6 695.4 1054.4 698.3 1054.3 701.2 1054.2 704.1 1054.1 707.1 1054 710.2 1053.9 713.1 1053.8 716.1 1053.7 719.1 1053.6 722.1 1053.6 725.1 1053.5 728.1 1053.4 731.2 1053.3 734.2 1053.3 737.3 1053.2 740.3 1053.1 743.4 1053 746.5 1053 749.6 1052.9 752.7 1052.8 755.8 1052.8 758.9 1052.7 762 1052.6 765 1052.5 768.1 1052.5 771.2 1052.4 774.3 1052.3 777.3 1052.2 780.4 1052.1 783.4 1052 786.5 1051.9 789.5 1051.8 792.6 1051.7 795.6 1051.6 798.7 1051.5 801.7 1051.4 804.8 1051.3 807.8 1051.2 810.9 1051 813.9 1050.9 817 1050.8 820 1050.7 823.1 1050.6 826.1 1050.5 829.2 1050.3 832.2 1050.2 835.3 1050.1 838.3 1050 841.4 1049.9 844.4 1049.7 847.5 1049.6 850.5 1049.5 853.6 1049.4 856.6 1049.3 859.7 1049.1 862.7 1049 865.8 1048.9 868.8 1048.8 871.9 1048.7 874.9 1048.6 878 1048.4 881 1048.3 884.1 1048.2 887.1 1048.1 890.2 1048 893.2 1047.8 896.3 1047.7 899.3 1047.6 902.4 1047.4 905.4 1047.3 908.5 1047.1 911.5 1047 914.6 1046.8 917.6 1046.7 920.7 1046.5 923.8 1046.3 926.9 1046.1 930 1046 933.2 1045.8 936.3 1045.6 939.5 1045.4 942.7 1045.2 945.9 1045 949.1 1044.8 952.3 1044.6 955.5 1044.4 958.7 1044.1 961.8 1043.9 964.9 1043.7 968 1043.5 971 1043.2 974.1 1043 977 1042.8 979.9 1042.5 982.8 1042.3 985.5 1042 988.3 1041.8 990.9 1041.5 994.3 1041.2 997.4 1040.8 1000.5 1040.4 1003.4 1040 1006.3 1039.6 1009.1 1039.3 1011.8 1038.9 1014.7 1038.5 1017.5 1038.1 1020.4 1037.7 1023.5 1037.3 1026.6 1036.9 1030 1036.5 1032.6 1036.2 1035.4 1035.9 1038.1 1035.7 1041 1035.4 1043.9 1035.1 1046.9 1034.8 1049.9 1034.6 1052.9 1034.3 1056 1034 1059.1 1033.7 1062.2 1033.5 1065.4 1033.2 1068.6 1032.9 1071.8 1032.6 1075 1032.4 1078.2 1032.1 1081.4 1031.8 1084.6 1031.5 1087.7 1031.2 1090.9 1030.9 1094 1030.6 1097.1 1030.3 1100.2 1030 1103.3 1029.7 1106.3 1029.4 1109.4 1029.1 1112.4 1028.7 1115.5 1028.4 1118.5 1028.1 1121.6 1027.8 1124.6 1027.5 1127.7 1027.1 1130.7 1026.8 1133.8 1026.5 1136.8 1026.1 1139.9 1025.8 1142.9 1025.4 1146 1025.1 1149.1 1024.7 1152.1 1024.4 1155.2 1024 1158.2 1023.6 1161.3 1023.3 1164.3 1022.9 1167.4 1022.5 1170.4 1022.1 1173.5 1021.7 1176.5 1021.3 1179.6 1020.8 1182.7 1020.4 1185.8 1019.9 1189 1019.5 1192.1 1019 1195.2 1018.5 1198.3 1018.1 1201.4 1017.6 1204.5 1017.1 1207.6 1016.6 1210.7 1016.1 1213.8 1015.6 1216.9 1015.2 1219.9 1014.7 1222.9 1014.2 1225.9 1013.8 1228.9 1013.3 1231.8 1012.9 1234.8 1012.4 1237.6 1012 1240.5 1011.6 1243.8 1011.1 1247 1010.7 1250.3 1010.3 1253.4 1009.9 1256.6 1009.6 1259.7 1009.2 1262.8 1008.8 1265.8 1008.5 1268.9 1008.1 1271.9 1007.8 1274.9 1007.4 1278 1007 1281 1006.6 1284 1006.1 1287.1 1005.6 1290.1 1005.1 1293.2 1004.6 1296.2 1004 1299.1 1003.5 1302.1 1002.8 1305.1 1002.2 1308.1 1001.5 1311.2 1000.8 1314.2 1000.1 1317.2 999.4 1320.2 998.7 1323.2 997.9 1326.1 997.2 1329.1 996.5 1332 995.7 1334.8 995 1337.7 994.3 1340.4 993.6 1343.1 992.9 1345.8 992.3 1349 991.5 1352.1 990.8 1355.1 990.1 1358 989.3 1360.9 988.6 1363.8 987.9 1366.7 987.2 1369.5 986.5 1372.3 985.8 1375.1 985 1378 984.3 1380.9 983.5 1383.9 982.7 1386.9 981.9 1389.9 981.1 1392.9 980.3 1395.9 979.4 1398.9 978.6 1401.9 977.7 1404.9 976.8 1407.8 975.9 1410.6 975 1413.3 974 1416 973 1419.3 971.6 1422.5 970.2 1425.6 968.8 1428.6 967.3 1431.5 965.7 1434.4 964.2 1437.2 962.6 1440 961 1442.8 959.3 1445.5 957.6 1448.2 955.9 1450.7 954.2 1453.3 952.4 1455.9 950.7 1458.6 949 1461.3 947.3 1464.1 945.7 1466.9 944 1469.7 942.4 1472.4 940.7 1475.2 939.1 1478 937.5 1480.7 935.9 1483.4 934.4 1486 932.8 1488.7 931.3 1491.4 929.8 1494.2 928.2 1497.2 926.6 1499.9 925.2 1502.7 923.7 1505.6 922.2 1508.6 920.6 1511.6 919.1 1514.6 917.6 1517.6 916.1 1520.6 914.7 1523.4 913.3 1526.1 912.1 1529.5 910.6 1532.8 909.1 1535.9 907.7 1539 906.5 1542.2 905.4 1545.4 904.4 1548.6 903.6 1551.8 902.9 1555 902.4 1558.2 901.9 1561.5 901.7 1564.7 901.5 1567.9 901.5 1571.2 901.8 1574.5 902.1 1577.7 902.5 1580.9 903 1584 903.4 1587.2 903.9 1590.1 904.4 1593.1 904.9 1596.3 905.4 1600 905.8 1602.5 906 1605.3 906.1 1608.2 906.2 1611.3 906.2 1614.5 906.2 1617.7 906.2 1621.1 906.2 1624.5 906.2 1628 906.1 1631.4 906.1 1634.9 906.2 1638.3 906.2 1641.6 906.3 1644.7 906.4 1647.7 906.6 1650.9 906.8 1654 907 1657.2 907.2 1660.4 907.5 1663.6 907.7 1666.8 908 1670 908.2 1673.1 908.4 1676.3 908.6 1679.4 908.7 1682.4 908.8 1685.4 908.9 1688.4 908.9 1691.6 908.8 1694.7 908.7 1697.9 908.6 1700.9 908.4 1704 908.2 1707 907.9 1710 907.6 1713 907.4 1715.9 907.1 1718.9 906.8 1721.8 906.5 1724.7 906.3 1727.9 906.1 1731.2 905.9 1734.4 905.7 1737.7 905.5 1740.9 905.3 1744 905.1 1747.1 904.9 1750.1 904.6 1753.1 904.2 1755.9 903.7 1759.1 903 1762 902.1 1764.9 901.2 1767.7 900.2 1770.6 899.2 1773.5 898.3 1776.7 897.5 1779.5 897 1782.5 896.5 1785.5 896.1 1788.7 895.7 1791.8 895.3 1795.1 895 1798.3 894.7 1801.5 894.4 1804.7 894.1 1807.9 893.8 1811.1 893.5 1814.3 893.3 1817.5 893.1 1820.8 892.9 1824 892.7 1827.2 892.5 1830.5 892.2 1833.7 891.9 1836.8 891.6 1840 891.2 1843 890.7 1846 890.2 1849 889.6 1852 889 1854.9 888.3 1857.9 887.7 1860.9 887 1863.9 886.3 1866.9 885.6 1870 885 1873.1 884.4 1876.2 883.8 1879.4 883.1 1882.5 882.5 1885.7 881.9 1888.9 881.2 1892.2 880.6 1895.4 879.9 1898.6 879.3 1901.8 878.6 1905 878 1908.2 877.4 1911.4 876.7 1914.6 876.1 1917.7 875.5 1920.9 874.9 1924.1 874.2 1927.3 873.6 1930.5 872.9 1933.7 872.2 1936.8 871.5 1940 870.7 1943 869.9 1945.9 869.1 1948.9 868.2 1951.9 867.3 1954.9 866.3 1957.9 865.4 1960.9 864.4 1963.8 863.5 1966.7 862.6 1969.6 861.7 1972.4 860.9 1975.1 860.2 1978.4 859.4 1981.6 858.7 1984.6 858 1987.7 857.4 1990.7 856.7 1993.7 856.1 1996.8 855.4 2000 854.6 2002.9 853.8 2005.9 853 2008.8 852.2 2011.9 851.3 2014.9 850.4 2018 849.4 2021 848.5 2024.1 847.5 2027.1 846.6 2030.1 845.6 2033.1 844.6 2036.1 843.6 2039.1 842.5 2042.1 841.4 2045.2 840.3 2048.2 839.2 2051.2 838.1 2054.2 837 2057.2 836 2060.2 835 2063.2 834 2066.3 833.1 2069.3 832.1 2072.4 831.2 2075.4 830.3 2078.5 829.4 2081.5 828.5 2084.5 827.6 2087.4 826.8 2090.2 826 2093.6 825.1 2096.8 824.3 2100 823.5 2103.1 822.7 2106.3 821.9 2109.5 821 2112.8 820 2115.6 819.1 2118.4 818.1 2121.3 817.1 2124.2 816 2127.2 814.9 2130.2 813.8 2133.1 812.7 2136 811.5 2138.9 810.4 2141.8 809.3 2144.8 808.1 2147.7 807 2150.7 805.8 2153.6 804.6 2156.5 803.4 2159.3 802.2 2162.2 801 2165.2 799.9 2168.1 798.8 2171.1 797.7 2174.2 796.6 2177.3 795.5 2180.4 794.4 2183.5 793.3 2186.6 792.3 2189.5 791.4 2192.3 790.5 2195 789.7 2198.3 788.8 2201.3 788.1 2204.2 787.4 2207.1 786.8 2210 786 2213 785.1 2216 784.1 2219 783.1 2222 782 2225 781 2228 780 2231 779 2234 778 2237 777 2240 776 2243 775.1 2246 774.2 2249 773.3 2252 772.4 2255 771.5 2258 770.7 2261 769.9 2264.1 769.1 2267.1 768.1 2270 767 2273.1 765.5 2276.2 763.7 2279.3 761.8 2282.2 759.9 2285 758 2287.7 756 2290.1 753.9 2292.5 751.9 2295 750 2298.2 747.9 2301.5 745.9 2304.8 744" fill="none" stroke="#00b0f0" stroke-width="15.5" stroke-linecap="round" stroke-linejoin="round"/>
<g font-family="DejaVu Sans, Verdana, sans-serif" font-size="50" fill="#111" text-anchor="end"><text transform="translate(205 76.4) scale(1.03 1)">3</text><text transform="translate(209.3 244.6) scale(1.03 1)">2.5</text><text transform="translate(205 412.7) scale(1.03 1)">2</text><text transform="translate(209.3 580.9) scale(1.03 1)">1.5</text><text transform="translate(205 749) scale(1.03 1)">1</text><text transform="translate(209.3 917.2) scale(1.03 1)">0.5</text><text transform="translate(205 1085.3) scale(1.03 1)">0</text><text transform="translate(209.3 1253.5) scale(1.03 1)">-0.5</text><text transform="translate(205 1421.6) scale(1.03 1)">-1</text></g>
<g font-family="DejaVu Sans, Verdana, sans-serif" font-size="50" fill="#111" text-anchor="middle"><text transform="translate(260.8 1493.3) scale(1.03 1)">0.0</text><text transform="translate(770.9 1493.3) scale(1.03 1)">0.2</text><text transform="translate(1285.5 1493.3) scale(1.03 1)">0.4</text><text transform="translate(1796.5 1493.3) scale(1.03 1)">0.6</text><text transform="translate(2307.3 1493.3) scale(1.03 1)">0.8</text></g>
<text transform="translate(1400.2 1612.6) scale(0.974 1)" font-family="Liberation Sans, Arial, Helvetica, sans-serif" font-weight="bold" font-size="64" text-anchor="middle" fill="#000">Potential vs. Ag/AgCl / V</text>
<text transform="translate(73.3 735.7) rotate(-90) scale(0.968 1)" font-family="Carlito, Calibri, Liberation Sans, sans-serif" font-weight="bold" font-size="57.5" text-anchor="middle" fill="#000">Current/µA</text>
<text transform="translate(1544 230.3) scale(0.97 1)" font-family="Carlito, Calibri, Liberation Sans, sans-serif" font-weight="bold" font-size="76" fill="#000">c</text>
<text transform="translate(1507 561.5) scale(1.1 0.97)" font-family="Carlito, Calibri, Liberation Sans, sans-serif" font-weight="bold" font-size="76" fill="#000">b</text>
<text transform="translate(1535.3 890) scale(1.07 1)" font-family="Carlito, Calibri, Liberation Sans, sans-serif" font-weight="bold" font-size="76" fill="#000">a</text></svg>
</body></html>
